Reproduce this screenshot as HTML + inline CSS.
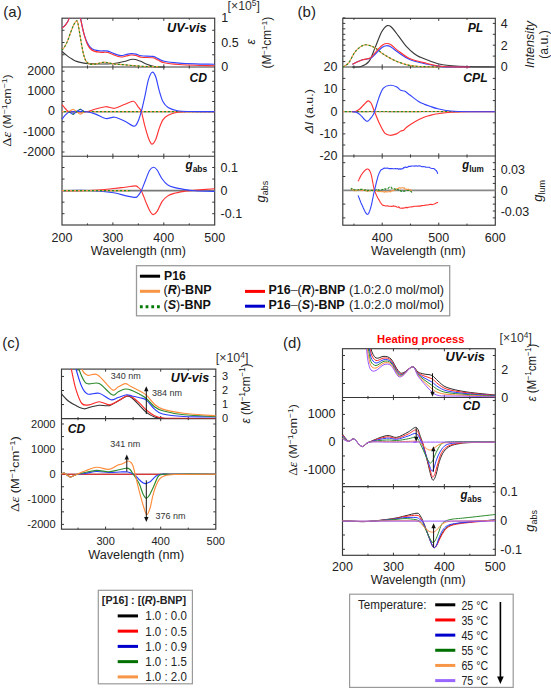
<!DOCTYPE html><html><head><meta charset="utf-8"><style>html,body{margin:0;padding:0;background:#fff;}svg{display:block;}</style></head><body>
<svg width="551" height="688" viewBox="0 0 551 688">
<rect width="551" height="688" fill="#fff"/>
<text x="3.30" y="16.80" font-family="'Liberation Sans', sans-serif" font-size="15" text-anchor="start" font-weight="normal" font-style="normal" fill="#222" >(a)</text>
<rect x="62.00" y="18.20" width="152.70" height="206.80" fill="none" stroke="#383838" stroke-width="1.15"/>
<line x1="62.00" y1="67.00" x2="214.70" y2="67.00" stroke="#383838" stroke-width="1.15" />
<line x1="62.00" y1="156.20" x2="214.70" y2="156.20" stroke="#383838" stroke-width="1.15" />
<line x1="112.90" y1="18.20" x2="112.90" y2="20.80" stroke="#383838" stroke-width="1" />
<line x1="163.80" y1="18.20" x2="163.80" y2="20.80" stroke="#383838" stroke-width="1" />
<line x1="87.45" y1="18.20" x2="87.45" y2="19.80" stroke="#383838" stroke-width="1" />
<line x1="138.35" y1="18.20" x2="138.35" y2="19.80" stroke="#383838" stroke-width="1" />
<line x1="189.25" y1="18.20" x2="189.25" y2="19.80" stroke="#383838" stroke-width="1" />
<line x1="112.90" y1="64.40" x2="112.90" y2="67.00" stroke="#383838" stroke-width="1" />
<line x1="112.90" y1="67.00" x2="112.90" y2="69.60" stroke="#383838" stroke-width="1" />
<line x1="163.80" y1="64.40" x2="163.80" y2="67.00" stroke="#383838" stroke-width="1" />
<line x1="163.80" y1="67.00" x2="163.80" y2="69.60" stroke="#383838" stroke-width="1" />
<line x1="87.45" y1="65.40" x2="87.45" y2="67.00" stroke="#383838" stroke-width="1" />
<line x1="87.45" y1="67.00" x2="87.45" y2="68.60" stroke="#383838" stroke-width="1" />
<line x1="138.35" y1="65.40" x2="138.35" y2="67.00" stroke="#383838" stroke-width="1" />
<line x1="138.35" y1="67.00" x2="138.35" y2="68.60" stroke="#383838" stroke-width="1" />
<line x1="189.25" y1="65.40" x2="189.25" y2="67.00" stroke="#383838" stroke-width="1" />
<line x1="189.25" y1="67.00" x2="189.25" y2="68.60" stroke="#383838" stroke-width="1" />
<line x1="112.90" y1="153.60" x2="112.90" y2="156.20" stroke="#383838" stroke-width="1" />
<line x1="112.90" y1="156.20" x2="112.90" y2="158.80" stroke="#383838" stroke-width="1" />
<line x1="163.80" y1="153.60" x2="163.80" y2="156.20" stroke="#383838" stroke-width="1" />
<line x1="163.80" y1="156.20" x2="163.80" y2="158.80" stroke="#383838" stroke-width="1" />
<line x1="87.45" y1="154.60" x2="87.45" y2="156.20" stroke="#383838" stroke-width="1" />
<line x1="87.45" y1="156.20" x2="87.45" y2="157.80" stroke="#383838" stroke-width="1" />
<line x1="138.35" y1="154.60" x2="138.35" y2="156.20" stroke="#383838" stroke-width="1" />
<line x1="138.35" y1="156.20" x2="138.35" y2="157.80" stroke="#383838" stroke-width="1" />
<line x1="189.25" y1="154.60" x2="189.25" y2="156.20" stroke="#383838" stroke-width="1" />
<line x1="189.25" y1="156.20" x2="189.25" y2="157.80" stroke="#383838" stroke-width="1" />
<line x1="112.90" y1="222.40" x2="112.90" y2="225.00" stroke="#383838" stroke-width="1" />
<line x1="163.80" y1="222.40" x2="163.80" y2="225.00" stroke="#383838" stroke-width="1" />
<line x1="87.45" y1="223.40" x2="87.45" y2="225.00" stroke="#383838" stroke-width="1" />
<line x1="138.35" y1="223.40" x2="138.35" y2="225.00" stroke="#383838" stroke-width="1" />
<line x1="189.25" y1="223.40" x2="189.25" y2="225.00" stroke="#383838" stroke-width="1" />
<line x1="62.00" y1="30.25" x2="64.50" y2="30.25" stroke="#383838" stroke-width="1" />
<line x1="212.20" y1="30.25" x2="214.70" y2="30.25" stroke="#383838" stroke-width="1" />
<line x1="62.00" y1="42.50" x2="64.50" y2="42.50" stroke="#383838" stroke-width="1" />
<line x1="212.20" y1="42.50" x2="214.70" y2="42.50" stroke="#383838" stroke-width="1" />
<line x1="62.00" y1="54.75" x2="64.50" y2="54.75" stroke="#383838" stroke-width="1" />
<line x1="212.20" y1="54.75" x2="214.70" y2="54.75" stroke="#383838" stroke-width="1" />
<line x1="62.00" y1="152.00" x2="64.50" y2="152.00" stroke="#383838" stroke-width="1" />
<line x1="212.20" y1="152.00" x2="214.70" y2="152.00" stroke="#383838" stroke-width="1" />
<line x1="62.00" y1="141.90" x2="64.50" y2="141.90" stroke="#383838" stroke-width="1" />
<line x1="212.20" y1="141.90" x2="214.70" y2="141.90" stroke="#383838" stroke-width="1" />
<line x1="62.00" y1="131.80" x2="64.50" y2="131.80" stroke="#383838" stroke-width="1" />
<line x1="212.20" y1="131.80" x2="214.70" y2="131.80" stroke="#383838" stroke-width="1" />
<line x1="62.00" y1="121.70" x2="64.50" y2="121.70" stroke="#383838" stroke-width="1" />
<line x1="212.20" y1="121.70" x2="214.70" y2="121.70" stroke="#383838" stroke-width="1" />
<line x1="62.00" y1="111.60" x2="64.50" y2="111.60" stroke="#383838" stroke-width="1" />
<line x1="212.20" y1="111.60" x2="214.70" y2="111.60" stroke="#383838" stroke-width="1" />
<line x1="62.00" y1="101.50" x2="64.50" y2="101.50" stroke="#383838" stroke-width="1" />
<line x1="212.20" y1="101.50" x2="214.70" y2="101.50" stroke="#383838" stroke-width="1" />
<line x1="62.00" y1="91.40" x2="64.50" y2="91.40" stroke="#383838" stroke-width="1" />
<line x1="212.20" y1="91.40" x2="214.70" y2="91.40" stroke="#383838" stroke-width="1" />
<line x1="62.00" y1="81.30" x2="64.50" y2="81.30" stroke="#383838" stroke-width="1" />
<line x1="212.20" y1="81.30" x2="214.70" y2="81.30" stroke="#383838" stroke-width="1" />
<line x1="62.00" y1="71.20" x2="64.50" y2="71.20" stroke="#383838" stroke-width="1" />
<line x1="212.20" y1="71.20" x2="214.70" y2="71.20" stroke="#383838" stroke-width="1" />
<line x1="62.00" y1="213.70" x2="64.50" y2="213.70" stroke="#383838" stroke-width="1" />
<line x1="212.20" y1="213.70" x2="214.70" y2="213.70" stroke="#383838" stroke-width="1" />
<line x1="62.00" y1="202.15" x2="64.50" y2="202.15" stroke="#383838" stroke-width="1" />
<line x1="212.20" y1="202.15" x2="214.70" y2="202.15" stroke="#383838" stroke-width="1" />
<line x1="62.00" y1="179.05" x2="64.50" y2="179.05" stroke="#383838" stroke-width="1" />
<line x1="212.20" y1="179.05" x2="214.70" y2="179.05" stroke="#383838" stroke-width="1" />
<line x1="62.00" y1="167.50" x2="64.50" y2="167.50" stroke="#383838" stroke-width="1" />
<line x1="212.20" y1="167.50" x2="214.70" y2="167.50" stroke="#383838" stroke-width="1" />
<text x="55.00" y="75.00" font-family="'Liberation Sans', sans-serif" font-size="12.5" text-anchor="end" font-weight="normal" font-style="normal" fill="#222" >2000</text>
<text x="55.00" y="95.20" font-family="'Liberation Sans', sans-serif" font-size="12.5" text-anchor="end" font-weight="normal" font-style="normal" fill="#222" >1000</text>
<text x="55.00" y="115.40" font-family="'Liberation Sans', sans-serif" font-size="12.5" text-anchor="end" font-weight="normal" font-style="normal" fill="#222" >0</text>
<text x="55.00" y="135.60" font-family="'Liberation Sans', sans-serif" font-size="12.5" text-anchor="end" font-weight="normal" font-style="normal" fill="#222" >-1000</text>
<text x="55.00" y="155.80" font-family="'Liberation Sans', sans-serif" font-size="12.5" text-anchor="end" font-weight="normal" font-style="normal" fill="#222" >-2000</text>
<text x="62.00" y="241.80" font-family="'Liberation Sans', sans-serif" font-size="12.5" text-anchor="middle" font-weight="normal" font-style="normal" fill="#222" >200</text>
<text x="112.90" y="241.80" font-family="'Liberation Sans', sans-serif" font-size="12.5" text-anchor="middle" font-weight="normal" font-style="normal" fill="#222" >300</text>
<text x="163.80" y="241.80" font-family="'Liberation Sans', sans-serif" font-size="12.5" text-anchor="middle" font-weight="normal" font-style="normal" fill="#222" >400</text>
<text x="214.70" y="241.80" font-family="'Liberation Sans', sans-serif" font-size="12.5" text-anchor="middle" font-weight="normal" font-style="normal" fill="#222" >500</text>
<text x="138.40" y="255.00" font-family="'Liberation Sans', sans-serif" font-size="12" text-anchor="middle" font-weight="normal" font-style="normal" fill="#222" textLength="95.2" lengthAdjust="spacingAndGlyphs" >Wavelength (nm)</text>
<text x="221.30" y="21.80" font-family="'Liberation Sans', sans-serif" font-size="12.5" text-anchor="start" font-weight="normal" font-style="normal" fill="#222" >1</text>
<text x="221.30" y="46.80" font-family="'Liberation Sans', sans-serif" font-size="12.5" text-anchor="start" font-weight="normal" font-style="normal" fill="#222" >0.5</text>
<text x="221.30" y="71.20" font-family="'Liberation Sans', sans-serif" font-size="12.5" text-anchor="start" font-weight="normal" font-style="normal" fill="#222" >0</text>
<text x="227.60" y="10.40" font-family="'Liberation Sans', sans-serif" font-size="12.5" text-anchor="start" font-weight="normal" font-style="normal" fill="#333" textLength="32.2" lengthAdjust="spacingAndGlyphs" >[×10<tspan dy='-4.5' font-size='8.5'>5</tspan><tspan dy='4.5'>]</tspan></text>
<text x="220.60" y="171.70" font-family="'Liberation Sans', sans-serif" font-size="12.5" text-anchor="start" font-weight="normal" font-style="normal" fill="#222" >0.1</text>
<text x="220.60" y="194.60" font-family="'Liberation Sans', sans-serif" font-size="12.5" text-anchor="start" font-weight="normal" font-style="normal" fill="#222" >0</text>
<text x="220.60" y="217.80" font-family="'Liberation Sans', sans-serif" font-size="12.5" text-anchor="start" font-weight="normal" font-style="normal" fill="#222" >-0.1</text>
<text x="255.30" y="41.80" font-family="'Liberation Sans', sans-serif" font-size="12" text-anchor="middle" font-weight="normal" font-style="italic" fill="#222" transform="rotate(-90 255.30 41.80)" >ε</text>
<text x="271.40" y="42.70" font-family="'Liberation Sans', sans-serif" font-size="12" text-anchor="middle" font-weight="normal" font-style="normal" fill="#222" textLength="51.7" lengthAdjust="spacingAndGlyphs" transform="rotate(-90 271.40 42.70)" >(M<tspan dy='-4' font-size='8'>−1</tspan><tspan dy='4'>cm</tspan><tspan dy='-4' font-size='8'>−1</tspan><tspan dy='4'>)</tspan></text>
<text x="264.60" y="191.60" font-family="'Liberation Sans', sans-serif" font-size="12" text-anchor="middle" font-weight="normal" font-style="normal" fill="#222" transform="rotate(-90 264.60 191.60)" ><tspan font-style='italic' font-size='13'>g</tspan><tspan dy='3' font-size='9'>abs</tspan></text>
<text x="10.90" y="110.60" font-family="'Liberation Sans', sans-serif" font-size="10.5" text-anchor="middle" font-weight="normal" font-style="normal" fill="#222" textLength="72.4" lengthAdjust="spacingAndGlyphs" transform="rotate(-90 10.90 110.60)" ><tspan font-family="'Liberation Serif', serif" font-size='12.5'>Δ<tspan font-style='italic'>ε</tspan></tspan><tspan>  (M</tspan><tspan dy='-4' font-size='7.5'>−1</tspan><tspan dy='4'>cm</tspan><tspan dy='-4' font-size='7.5'>−1</tspan><tspan dy='4'>)</tspan></text>
<text x="206.60" y="31.80" font-family="'Liberation Sans', sans-serif" font-size="12.2" text-anchor="end" font-weight="bold" font-style="italic" fill="#111" textLength="39.5" lengthAdjust="spacingAndGlyphs" >UV-vis</text>
<text x="207.10" y="81.80" font-family="'Liberation Sans', sans-serif" font-size="12.2" text-anchor="end" font-weight="bold" font-style="italic" fill="#111" >CD</text>
<text x="185.50" y="168.80" font-family="'Liberation Sans', sans-serif" font-size="12" text-anchor="start" font-weight="bold" font-style="normal" fill="#111" textLength="21.8" lengthAdjust="spacingAndGlyphs" ><tspan font-style='italic' font-size='13'>g</tspan><tspan font-size='9.5' dy='3'>abs</tspan></text>
<path d="M62.0 51.5 C62.9 52.3 65.9 54.8 67.6 56.1 C69.3 57.4 70.6 58.2 72.1 59.1 C73.6 60.0 74.8 60.8 76.6 61.4 C78.4 62.0 80.7 62.5 82.7 62.9 C84.7 63.3 85.8 63.4 88.7 63.6 C91.6 63.8 95.8 64.0 100.0 64.0 C104.2 64.0 109.7 63.9 113.7 63.5 C117.7 63.1 120.8 62.2 124.0 61.5 C127.2 60.8 129.9 59.4 132.6 59.3 C135.3 59.2 137.7 60.2 140.0 61.0 C142.3 61.8 143.9 63.1 146.3 64.0 C148.7 64.9 151.4 66.1 154.5 66.6 C157.6 67.1 163.2 66.9 165.0 67.0" fill="none" stroke="#3a3a3a" stroke-width="1.15" stroke-linejoin="round" />
<path d="M62.0 50.0 C62.4 49.5 63.6 48.5 64.5 47.0 C65.4 45.5 66.6 43.3 67.6 40.9 C68.6 38.5 69.6 35.2 70.6 32.6 C71.6 30.0 72.6 27.1 73.6 25.1 C74.5 23.2 75.6 21.3 76.3 20.9 C77.0 20.5 77.3 21.1 77.8 22.8 C78.3 24.5 78.7 27.8 79.3 31.1 C79.9 34.4 80.5 38.7 81.2 42.5 C81.9 46.3 82.7 50.8 83.4 53.8 C84.2 56.8 84.8 59.0 85.7 60.6 C86.6 62.2 87.7 63.0 88.7 63.6 C89.7 64.2 90.2 64.4 91.7 64.4 C93.2 64.4 95.8 63.9 98.0 63.5 C100.2 63.1 102.4 62.1 105.0 62.2 C107.6 62.3 110.4 63.6 113.7 64.0 C117.0 64.4 120.6 64.4 125.0 64.8 C129.4 65.2 134.2 65.9 140.0 66.2 C145.8 66.5 156.7 66.7 160.0 66.8" fill="none" stroke="#f79646" stroke-width="1.15" stroke-linejoin="round" />
<path d="M62.0 50.0 C62.4 49.5 63.6 48.5 64.5 47.0 C65.4 45.5 66.6 43.3 67.6 40.9 C68.6 38.5 69.6 35.2 70.6 32.6 C71.6 30.0 72.6 27.1 73.6 25.1 C74.5 23.2 75.6 21.3 76.3 20.9 C77.0 20.5 77.3 21.1 77.8 22.8 C78.3 24.5 78.7 27.8 79.3 31.1 C79.9 34.4 80.5 38.7 81.2 42.5 C81.9 46.3 82.7 50.8 83.4 53.8 C84.2 56.8 84.8 59.0 85.7 60.6 C86.6 62.2 87.7 63.0 88.7 63.6 C89.7 64.2 90.2 64.4 91.7 64.4 C93.2 64.4 95.8 63.9 98.0 63.5 C100.2 63.1 102.4 62.1 105.0 62.2 C107.6 62.3 110.4 63.6 113.7 64.0 C117.0 64.4 120.6 64.4 125.0 64.8 C129.4 65.2 134.2 65.9 140.0 66.2 C145.8 66.5 156.7 66.7 160.0 66.8" fill="none" stroke="#228b22" stroke-width="1.15" stroke-dasharray="2,2" stroke-linejoin="round" />
<clipPath id="ca"><rect x="62" y="18.2" width="152.7" height="48.8"/></clipPath>
<g clip-path="url(#ca)">
<path d="M62.0 27.8 C62.4 27.5 63.6 26.9 64.5 25.9 C65.4 24.9 66.8 23.0 67.6 21.7 C68.4 20.4 68.5 19.7 69.1 18.0 C69.7 16.3 69.5 12.8 71.0 11.7 C72.5 10.6 76.4 10.6 78.0 11.7 C79.6 12.8 79.8 15.8 80.4 18.0 C81.1 20.2 81.3 22.0 81.9 24.8 C82.5 27.6 83.3 31.6 84.2 34.6 C85.1 37.6 86.2 40.5 87.2 42.6 C88.2 44.7 89.1 45.9 90.2 47.1 C91.3 48.3 92.4 49.1 94.0 49.7 C95.6 50.3 98.4 50.7 100.0 50.9 C101.6 51.1 102.2 50.9 103.5 50.9 C104.8 50.9 106.2 50.6 108.0 51.1 C109.8 51.6 111.8 52.9 114.0 53.6 C116.2 54.4 119.0 55.4 121.0 55.6 C123.0 55.8 124.3 54.9 126.0 54.6 C127.7 54.3 129.3 53.7 131.0 53.6 C132.7 53.5 134.3 53.7 136.0 54.1 C137.7 54.5 138.6 55.4 141.4 55.8 C144.2 56.2 150.1 55.9 152.9 56.4 C155.7 56.9 156.1 57.8 158.0 58.6 C159.9 59.4 160.8 60.6 164.3 61.3 C167.8 62.1 173.9 62.7 179.0 63.1 C184.1 63.5 189.1 63.7 195.0 63.9 C200.9 64.1 211.4 64.2 214.7 64.3" fill="none" stroke="#3344ff" stroke-width="1.15" stroke-linejoin="round" />
<path d="M62.0 28.1 C62.4 27.8 63.6 27.2 64.5 26.2 C65.4 25.2 66.8 23.3 67.6 22.0 C68.4 20.7 68.5 20.0 69.1 18.3 C69.7 16.6 69.5 13.1 71.0 12.0 C72.5 10.9 76.4 10.9 78.0 12.0 C79.6 13.1 79.8 16.1 80.4 18.3 C81.1 20.5 81.3 22.3 81.9 25.1 C82.5 27.9 83.3 31.8 84.2 34.9 C85.1 38.0 86.2 41.7 87.2 44.0 C88.2 46.3 89.1 47.3 90.2 48.5 C91.3 49.7 92.4 50.5 94.0 51.1 C95.6 51.7 98.4 52.1 100.0 52.3 C101.6 52.5 102.2 52.3 103.5 52.3 C104.8 52.3 106.2 52.0 108.0 52.5 C109.8 53.0 111.8 54.2 114.0 55.0 C116.2 55.8 119.0 56.8 121.0 57.0 C123.0 57.2 124.3 56.3 126.0 56.0 C127.7 55.7 129.3 55.1 131.0 55.0 C132.7 54.9 134.3 55.1 136.0 55.5 C137.7 55.9 138.6 56.8 141.4 57.2 C144.2 57.6 150.1 57.3 152.9 57.8 C155.7 58.3 156.1 59.2 158.0 60.0 C159.9 60.8 160.8 62.0 164.3 62.7 C167.8 63.5 173.9 64.1 179.0 64.5 C184.1 64.9 189.1 65.1 195.0 65.3 C200.9 65.5 211.4 65.6 214.7 65.7" fill="none" stroke="#ff3333" stroke-width="1.15" stroke-linejoin="round" />
</g>
<path d="M62.0 111.6 L214.7 111.6" fill="none" stroke="#3a3a3a" stroke-width="1.15" stroke-linejoin="round" />
<path d="M62.0 111.6 L214.7 111.6" fill="none" stroke="#f79646" stroke-width="1.15" stroke-dasharray="2,2" stroke-linejoin="round" />
<path d="M62.0 111.6 L214.7 111.6" fill="none" stroke="#228b22" stroke-width="1.15" stroke-dasharray="2,2" stroke-linejoin="round" stroke-dashoffset="2"/>
<path d="M62.0 104.5 C62.6 105.2 64.5 107.8 65.7 109.0 C66.9 110.2 67.2 111.0 68.9 111.5 C70.6 112.0 73.0 111.7 76.0 111.7 C79.0 111.8 83.4 112.2 86.7 111.8 C90.0 111.3 92.4 109.8 95.6 109.0 C98.8 108.2 102.5 106.8 105.7 106.7 C108.9 106.6 111.4 108.7 114.6 108.3 C117.8 107.9 121.8 105.4 125.0 104.2 C128.2 103.0 131.3 100.9 133.5 101.3 C135.7 101.7 136.8 105.1 138.1 106.8 C139.4 108.5 140.2 108.5 141.3 111.6 C142.4 114.6 143.4 120.7 144.6 125.1 C145.8 129.5 147.3 135.0 148.5 138.2 C149.7 141.4 150.6 143.9 151.8 144.1 C153.0 144.3 154.5 142.0 155.7 139.5 C156.9 137.0 157.8 132.3 159.0 129.0 C160.2 125.7 161.4 122.2 162.9 119.9 C164.4 117.6 165.7 116.6 168.1 115.3 C170.5 114.0 173.7 112.9 177.3 112.3 C181.0 111.7 183.8 111.8 190.0 111.7 C196.2 111.6 210.6 111.6 214.7 111.6" fill="none" stroke="#ff3333" stroke-width="1.15" stroke-linejoin="round" />
<path d="M62.0 119.1 C62.6 118.4 64.5 115.8 65.7 114.7 C66.9 113.6 67.2 112.7 68.9 112.2 C70.6 111.7 73.0 111.7 76.0 111.6 C79.0 111.5 83.4 111.4 86.7 111.8 C90.0 112.2 92.4 113.0 95.6 114.1 C98.8 115.2 102.5 118.0 105.7 118.5 C108.9 119.0 111.4 116.8 114.6 117.2 C117.8 117.7 121.7 119.7 125.0 121.2 C128.3 122.7 132.0 126.2 134.2 126.2 C136.4 126.2 136.9 123.6 138.1 121.2 C139.3 118.8 140.2 115.5 141.3 111.6 C142.4 107.7 143.4 103.1 144.6 97.7 C145.8 92.3 147.2 83.7 148.5 79.4 C149.8 75.2 151.0 72.6 152.2 72.2 C153.4 71.8 154.6 73.9 155.7 76.8 C156.8 79.7 157.8 85.7 159.0 89.8 C160.2 93.9 161.4 98.6 162.9 101.6 C164.4 104.5 165.7 106.0 168.1 107.5 C170.5 109.0 173.7 110.1 177.3 110.8 C181.0 111.5 183.8 111.4 190.0 111.5 C196.2 111.6 210.6 111.6 214.7 111.6" fill="none" stroke="#3344ff" stroke-width="1.15" stroke-linejoin="round" />
<path d="M69.0 111.7 C69.7 111.3 71.7 109.3 73.0 109.3 C74.3 109.3 75.4 110.9 76.6 111.7 C77.8 112.5 79.1 114.1 80.3 114.1 C81.5 114.1 83.4 112.1 84.0 111.7" fill="none" stroke="#f79646" stroke-width="1.15" stroke-linejoin="round" />
<path d="M69.0 111.7 C69.7 112.1 71.7 114.1 73.0 114.1 C74.3 114.1 75.4 112.5 76.6 111.7 C77.8 110.9 79.1 109.3 80.3 109.3 C81.5 109.3 83.4 111.3 84.0 111.7" fill="none" stroke="#3344ff" stroke-width="1.15" stroke-linejoin="round" />
<path d="M69.0 111.7 C69.7 112.1 71.7 114.1 73.0 114.1 C74.3 114.1 75.4 112.5 76.6 111.7 C77.8 110.9 79.1 109.3 80.3 109.3 C81.5 109.3 83.4 111.3 84.0 111.7" fill="none" stroke="#228b22" stroke-width="1.15" stroke-dasharray="2,2" stroke-linejoin="round" />
<line x1="62.00" y1="190.60" x2="214.70" y2="190.60" stroke="#777" stroke-width="1.8" />
<path d="M62.0 190.6 C66.5 190.6 80.4 190.8 89.0 190.5 C97.6 190.2 107.7 189.1 113.7 188.5 C119.7 187.9 121.4 187.6 125.0 187.2 C128.6 186.8 133.1 185.8 135.3 185.8 C137.5 185.8 137.1 186.6 138.1 187.4 C139.1 188.2 140.0 188.3 141.3 190.7 C142.6 193.1 144.3 198.3 145.7 201.6 C147.1 204.9 148.3 208.1 149.5 210.3 C150.7 212.5 151.8 214.4 153.1 214.6 C154.4 214.8 155.6 213.6 157.1 211.4 C158.6 209.2 160.3 204.2 162.0 201.6 C163.7 199.0 165.5 197.5 167.5 196.1 C169.5 194.7 171.1 194.2 174.0 193.4 C176.9 192.6 182.2 191.7 185.0 191.2 C187.8 190.7 185.6 191.0 190.5 190.6 C195.4 190.2 210.7 189.0 214.7 188.7" fill="none" stroke="#ff3333" stroke-width="1.15" stroke-linejoin="round" />
<path d="M62.0 190.6 C66.5 190.6 80.4 190.1 89.0 190.5 C97.6 190.9 107.7 192.0 113.7 192.8 C119.7 193.7 121.4 194.8 125.0 195.6 C128.6 196.4 133.1 197.4 135.3 197.4 C137.5 197.4 137.1 196.7 138.1 195.6 C139.1 194.5 140.0 193.3 141.3 190.7 C142.6 188.1 144.3 183.2 145.7 179.8 C147.1 176.4 148.2 172.6 149.5 170.5 C150.8 168.4 152.2 167.4 153.5 167.3 C154.8 167.2 155.7 168.1 157.1 170.0 C158.5 171.9 160.3 176.2 162.0 178.7 C163.7 181.1 165.5 183.2 167.5 184.7 C169.5 186.1 171.1 186.6 174.0 187.4 C176.9 188.2 181.5 189.0 185.0 189.6 C188.5 190.2 190.1 190.5 195.0 190.8 C199.9 191.1 211.4 191.4 214.7 191.5" fill="none" stroke="#3344ff" stroke-width="1.15" stroke-linejoin="round" />
<path d="M62.0 190.6 L130.0 190.6" fill="none" stroke="#f79646" stroke-width="1.15" stroke-dasharray="2,2" stroke-linejoin="round" />
<path d="M62.0 190.6 L130.0 190.6" fill="none" stroke="#228b22" stroke-width="1.15" stroke-dasharray="2,2" stroke-linejoin="round" stroke-dashoffset="2"/>
<text x="297.60" y="16.80" font-family="'Liberation Sans', sans-serif" font-size="15" text-anchor="start" font-weight="normal" font-style="normal" fill="#222" >(b)</text>
<rect x="342.80" y="18.30" width="152.50" height="206.90" fill="none" stroke="#383838" stroke-width="1.15"/>
<line x1="342.80" y1="67.00" x2="495.30" y2="67.00" stroke="#383838" stroke-width="1.15" />
<line x1="342.80" y1="156.00" x2="495.30" y2="156.00" stroke="#383838" stroke-width="1.15" />
<line x1="382.20" y1="18.30" x2="382.20" y2="20.90" stroke="#383838" stroke-width="1" />
<line x1="438.75" y1="18.30" x2="438.75" y2="20.90" stroke="#383838" stroke-width="1" />
<line x1="353.93" y1="18.30" x2="353.93" y2="19.90" stroke="#383838" stroke-width="1" />
<line x1="410.48" y1="18.30" x2="410.48" y2="19.90" stroke="#383838" stroke-width="1" />
<line x1="467.03" y1="18.30" x2="467.03" y2="19.90" stroke="#383838" stroke-width="1" />
<line x1="382.20" y1="64.40" x2="382.20" y2="67.00" stroke="#383838" stroke-width="1" />
<line x1="382.20" y1="67.00" x2="382.20" y2="69.60" stroke="#383838" stroke-width="1" />
<line x1="438.75" y1="64.40" x2="438.75" y2="67.00" stroke="#383838" stroke-width="1" />
<line x1="438.75" y1="67.00" x2="438.75" y2="69.60" stroke="#383838" stroke-width="1" />
<line x1="353.93" y1="65.40" x2="353.93" y2="67.00" stroke="#383838" stroke-width="1" />
<line x1="353.93" y1="67.00" x2="353.93" y2="68.60" stroke="#383838" stroke-width="1" />
<line x1="410.48" y1="65.40" x2="410.48" y2="67.00" stroke="#383838" stroke-width="1" />
<line x1="410.48" y1="67.00" x2="410.48" y2="68.60" stroke="#383838" stroke-width="1" />
<line x1="467.03" y1="65.40" x2="467.03" y2="67.00" stroke="#383838" stroke-width="1" />
<line x1="467.03" y1="67.00" x2="467.03" y2="68.60" stroke="#383838" stroke-width="1" />
<line x1="382.20" y1="153.40" x2="382.20" y2="156.00" stroke="#383838" stroke-width="1" />
<line x1="382.20" y1="156.00" x2="382.20" y2="158.60" stroke="#383838" stroke-width="1" />
<line x1="438.75" y1="153.40" x2="438.75" y2="156.00" stroke="#383838" stroke-width="1" />
<line x1="438.75" y1="156.00" x2="438.75" y2="158.60" stroke="#383838" stroke-width="1" />
<line x1="353.93" y1="154.40" x2="353.93" y2="156.00" stroke="#383838" stroke-width="1" />
<line x1="353.93" y1="156.00" x2="353.93" y2="157.60" stroke="#383838" stroke-width="1" />
<line x1="410.48" y1="154.40" x2="410.48" y2="156.00" stroke="#383838" stroke-width="1" />
<line x1="410.48" y1="156.00" x2="410.48" y2="157.60" stroke="#383838" stroke-width="1" />
<line x1="467.03" y1="154.40" x2="467.03" y2="156.00" stroke="#383838" stroke-width="1" />
<line x1="467.03" y1="156.00" x2="467.03" y2="157.60" stroke="#383838" stroke-width="1" />
<line x1="382.20" y1="222.60" x2="382.20" y2="225.20" stroke="#383838" stroke-width="1" />
<line x1="438.75" y1="222.60" x2="438.75" y2="225.20" stroke="#383838" stroke-width="1" />
<line x1="353.93" y1="223.60" x2="353.93" y2="225.20" stroke="#383838" stroke-width="1" />
<line x1="410.48" y1="223.60" x2="410.48" y2="225.20" stroke="#383838" stroke-width="1" />
<line x1="467.03" y1="223.60" x2="467.03" y2="225.20" stroke="#383838" stroke-width="1" />
<line x1="342.80" y1="61.55" x2="345.30" y2="61.55" stroke="#383838" stroke-width="1" />
<line x1="342.80" y1="56.10" x2="345.30" y2="56.10" stroke="#383838" stroke-width="1" />
<line x1="342.80" y1="50.65" x2="345.30" y2="50.65" stroke="#383838" stroke-width="1" />
<line x1="342.80" y1="45.20" x2="345.30" y2="45.20" stroke="#383838" stroke-width="1" />
<line x1="342.80" y1="39.75" x2="345.30" y2="39.75" stroke="#383838" stroke-width="1" />
<line x1="342.80" y1="34.30" x2="345.30" y2="34.30" stroke="#383838" stroke-width="1" />
<line x1="342.80" y1="28.85" x2="345.30" y2="28.85" stroke="#383838" stroke-width="1" />
<line x1="342.80" y1="23.40" x2="345.30" y2="23.40" stroke="#383838" stroke-width="1" />
<line x1="342.80" y1="17.95" x2="345.30" y2="17.95" stroke="#383838" stroke-width="1" />
<line x1="492.80" y1="56.10" x2="495.30" y2="56.10" stroke="#383838" stroke-width="1" />
<line x1="492.80" y1="45.20" x2="495.30" y2="45.20" stroke="#383838" stroke-width="1" />
<line x1="492.80" y1="34.30" x2="495.30" y2="34.30" stroke="#383838" stroke-width="1" />
<line x1="492.80" y1="23.40" x2="495.30" y2="23.40" stroke="#383838" stroke-width="1" />
<line x1="342.80" y1="145.00" x2="345.30" y2="145.00" stroke="#383838" stroke-width="1" />
<line x1="492.80" y1="145.00" x2="495.30" y2="145.00" stroke="#383838" stroke-width="1" />
<line x1="342.80" y1="133.90" x2="345.30" y2="133.90" stroke="#383838" stroke-width="1" />
<line x1="492.80" y1="133.90" x2="495.30" y2="133.90" stroke="#383838" stroke-width="1" />
<line x1="342.80" y1="122.80" x2="345.30" y2="122.80" stroke="#383838" stroke-width="1" />
<line x1="492.80" y1="122.80" x2="495.30" y2="122.80" stroke="#383838" stroke-width="1" />
<line x1="342.80" y1="100.60" x2="345.30" y2="100.60" stroke="#383838" stroke-width="1" />
<line x1="492.80" y1="100.60" x2="495.30" y2="100.60" stroke="#383838" stroke-width="1" />
<line x1="342.80" y1="89.50" x2="345.30" y2="89.50" stroke="#383838" stroke-width="1" />
<line x1="492.80" y1="89.50" x2="495.30" y2="89.50" stroke="#383838" stroke-width="1" />
<line x1="342.80" y1="78.40" x2="345.30" y2="78.40" stroke="#383838" stroke-width="1" />
<line x1="492.80" y1="78.40" x2="495.30" y2="78.40" stroke="#383838" stroke-width="1" />
<line x1="342.80" y1="217.90" x2="345.30" y2="217.90" stroke="#383838" stroke-width="1" />
<line x1="342.80" y1="204.10" x2="345.30" y2="204.10" stroke="#383838" stroke-width="1" />
<line x1="342.80" y1="176.50" x2="345.30" y2="176.50" stroke="#383838" stroke-width="1" />
<line x1="342.80" y1="162.70" x2="345.30" y2="162.70" stroke="#383838" stroke-width="1" />
<line x1="492.80" y1="217.90" x2="495.30" y2="217.90" stroke="#383838" stroke-width="1" />
<line x1="492.80" y1="211.00" x2="495.30" y2="211.00" stroke="#383838" stroke-width="1" />
<line x1="492.80" y1="204.10" x2="495.30" y2="204.10" stroke="#383838" stroke-width="1" />
<line x1="492.80" y1="197.20" x2="495.30" y2="197.20" stroke="#383838" stroke-width="1" />
<line x1="492.80" y1="183.40" x2="495.30" y2="183.40" stroke="#383838" stroke-width="1" />
<line x1="492.80" y1="176.50" x2="495.30" y2="176.50" stroke="#383838" stroke-width="1" />
<line x1="492.80" y1="169.60" x2="495.30" y2="169.60" stroke="#383838" stroke-width="1" />
<line x1="492.80" y1="162.70" x2="495.30" y2="162.70" stroke="#383838" stroke-width="1" />
<text x="337.50" y="71.20" font-family="'Liberation Sans', sans-serif" font-size="12.5" text-anchor="end" font-weight="normal" font-style="normal" fill="#222" >20</text>
<text x="337.50" y="93.40" font-family="'Liberation Sans', sans-serif" font-size="12.5" text-anchor="end" font-weight="normal" font-style="normal" fill="#222" >10</text>
<text x="337.50" y="115.60" font-family="'Liberation Sans', sans-serif" font-size="12.5" text-anchor="end" font-weight="normal" font-style="normal" fill="#222" >0</text>
<text x="337.50" y="137.80" font-family="'Liberation Sans', sans-serif" font-size="12.5" text-anchor="end" font-weight="normal" font-style="normal" fill="#222" >-10</text>
<text x="337.50" y="160.00" font-family="'Liberation Sans', sans-serif" font-size="12.5" text-anchor="end" font-weight="normal" font-style="normal" fill="#222" >-20</text>
<text x="382.20" y="242.00" font-family="'Liberation Sans', sans-serif" font-size="12.5" text-anchor="middle" font-weight="normal" font-style="normal" fill="#222" >400</text>
<text x="438.75" y="242.00" font-family="'Liberation Sans', sans-serif" font-size="12.5" text-anchor="middle" font-weight="normal" font-style="normal" fill="#222" >500</text>
<text x="495.30" y="242.00" font-family="'Liberation Sans', sans-serif" font-size="12.5" text-anchor="middle" font-weight="normal" font-style="normal" fill="#222" >600</text>
<text x="418.25" y="255.40" font-family="'Liberation Sans', sans-serif" font-size="12" text-anchor="middle" font-weight="normal" font-style="normal" fill="#222" textLength="94.7" lengthAdjust="spacingAndGlyphs" >Wavelength (nm)</text>
<text x="500.70" y="28.00" font-family="'Liberation Sans', sans-serif" font-size="12.5" text-anchor="start" font-weight="normal" font-style="normal" fill="#222" >4</text>
<text x="500.70" y="49.80" font-family="'Liberation Sans', sans-serif" font-size="12.5" text-anchor="start" font-weight="normal" font-style="normal" fill="#222" >2</text>
<text x="500.70" y="71.40" font-family="'Liberation Sans', sans-serif" font-size="12.5" text-anchor="start" font-weight="normal" font-style="normal" fill="#222" >0</text>
<text x="500.70" y="174.00" font-family="'Liberation Sans', sans-serif" font-size="12.5" text-anchor="start" font-weight="normal" font-style="normal" fill="#222" >0.03</text>
<text x="500.70" y="194.70" font-family="'Liberation Sans', sans-serif" font-size="12.5" text-anchor="start" font-weight="normal" font-style="normal" fill="#222" >0</text>
<text x="500.70" y="215.70" font-family="'Liberation Sans', sans-serif" font-size="12.5" text-anchor="start" font-weight="normal" font-style="normal" fill="#222" >-0.03</text>
<text x="534.20" y="44.50" font-family="'Liberation Sans', sans-serif" font-size="12" text-anchor="middle" font-weight="normal" font-style="italic" fill="#222" textLength="47" lengthAdjust="spacingAndGlyphs" transform="rotate(-90 534.20 44.50)" >Intensity</text>
<text x="548.20" y="44.50" font-family="'Liberation Sans', sans-serif" font-size="12" text-anchor="middle" font-weight="normal" font-style="normal" fill="#222" textLength="28.5" lengthAdjust="spacingAndGlyphs" transform="rotate(-90 548.20 44.50)" >(a.u.)</text>
<text x="313.20" y="111.30" font-family="'Liberation Sans', sans-serif" font-size="11.5" text-anchor="middle" font-weight="normal" font-style="normal" fill="#222" textLength="44.5" lengthAdjust="spacingAndGlyphs" transform="rotate(-90 313.20 111.30)" ><tspan font-style='italic'>ΔI</tspan> (a.u.)</text>
<text x="541.80" y="190.90" font-family="'Liberation Sans', sans-serif" font-size="12" text-anchor="middle" font-weight="normal" font-style="normal" fill="#222" transform="rotate(-90 541.80 190.90)" ><tspan font-style='italic' font-size='13'>g</tspan><tspan dy='3' font-size='9'>lum</tspan></text>
<text x="483.30" y="31.80" font-family="'Liberation Sans', sans-serif" font-size="12.2" text-anchor="end" font-weight="bold" font-style="italic" fill="#111" >PL</text>
<text x="487.60" y="81.80" font-family="'Liberation Sans', sans-serif" font-size="12.2" text-anchor="end" font-weight="bold" font-style="italic" fill="#111" >CPL</text>
<text x="462.30" y="168.80" font-family="'Liberation Sans', sans-serif" font-size="12" text-anchor="start" font-weight="bold" font-style="normal" fill="#111" textLength="21.4" lengthAdjust="spacingAndGlyphs" ><tspan font-style='italic' font-size='13'>g</tspan><tspan font-size='9.5' dy='3'>lum</tspan></text>
<path d="M352.0 67.0 C353.5 66.9 358.2 67.4 361.0 66.5 C363.8 65.6 366.7 64.4 369.0 61.4 C371.3 58.4 372.9 53.0 374.8 48.4 C376.7 43.8 379.1 37.2 380.6 33.9 C382.1 30.5 382.9 29.7 384.0 28.3 C385.1 26.9 386.0 25.9 387.2 25.6 C388.4 25.4 389.2 25.2 391.0 26.8 C392.8 28.4 395.4 31.9 398.0 35.3 C400.6 38.6 404.1 43.9 406.8 46.9 C409.5 49.9 411.8 51.8 414.0 53.5 C416.2 55.2 417.3 55.9 420.0 57.1 C422.7 58.4 426.2 59.7 430.0 61.0 C433.8 62.3 436.5 63.9 442.7 64.8 C448.9 65.7 458.5 66.2 467.2 66.6 C475.9 67.0 490.4 66.9 495.0 67.0" fill="none" stroke="#3a3a3a" stroke-width="1.15" stroke-linejoin="round" />
<path d="M343.0 67.0 C343.9 66.3 346.8 65.3 348.7 62.9 C350.6 60.5 352.6 55.4 354.5 52.7 C356.4 50.0 358.4 48.2 360.3 46.9 C362.2 45.6 363.7 44.7 366.1 44.8 C368.5 44.9 371.9 46.1 374.8 47.7 C377.7 49.3 380.1 52.0 383.5 54.2 C386.9 56.4 391.1 58.9 395.2 60.7 C399.3 62.5 404.1 64.1 408.2 65.1 C412.3 66.1 414.7 66.2 420.0 66.5 C425.3 66.8 436.7 66.8 440.0 66.9" fill="none" stroke="#f79646" stroke-width="1.15" stroke-linejoin="round" />
<path d="M343.0 67.0 C343.9 66.3 346.8 65.3 348.7 62.9 C350.6 60.5 352.6 55.4 354.5 52.7 C356.4 50.0 358.4 48.2 360.3 46.9 C362.2 45.6 363.7 44.7 366.1 44.8 C368.5 44.9 371.9 46.1 374.8 47.7 C377.7 49.3 380.1 52.0 383.5 54.2 C386.9 56.4 391.1 58.9 395.2 60.7 C399.3 62.5 404.1 64.1 408.2 65.1 C412.3 66.1 414.7 66.2 420.0 66.5 C425.3 66.8 436.7 66.8 440.0 66.9" fill="none" stroke="#228b22" stroke-width="1.15" stroke-dasharray="2,2" stroke-linejoin="round" />
<path d="M352.3 64.3 C353.9 63.6 358.8 61.0 361.8 60.0 C364.8 59.0 368.1 59.5 370.5 58.3 C372.9 57.1 374.4 54.8 376.3 53.0 C378.2 51.2 380.3 48.7 382.0 47.5 C383.7 46.3 384.9 45.8 386.4 45.7 C387.9 45.6 389.1 45.9 391.0 47.0 C392.9 48.1 394.9 50.2 398.0 52.3 C401.1 54.4 405.0 57.5 409.7 59.5 C414.4 61.5 420.8 62.8 426.3 64.0 C431.8 65.2 435.4 66.1 442.7 66.6 C450.0 67.1 465.4 66.9 470.0 67.0" fill="none" stroke="#3344ff" stroke-width="1.15" stroke-linejoin="round" />
<path d="M352.3 64.3 C353.9 63.6 358.8 61.1 361.8 60.0 C364.8 58.9 368.1 59.2 370.5 57.8 C372.9 56.3 374.4 53.3 376.3 51.3 C378.2 49.2 380.3 46.8 382.0 45.5 C383.7 44.2 384.9 43.6 386.4 43.5 C387.9 43.4 389.1 43.6 391.0 44.8 C392.9 46.0 394.9 48.3 398.0 50.6 C401.1 52.9 405.0 56.4 409.7 58.5 C414.4 60.6 420.8 61.9 426.3 63.2 C431.8 64.5 435.4 65.9 442.7 66.5 C450.0 67.1 465.4 66.9 470.0 67.0" fill="none" stroke="#ff3333" stroke-width="1.15" stroke-linejoin="round" />
<line x1="342.80" y1="111.70" x2="495.30" y2="111.70" stroke="#777" stroke-width="1" />
<path d="M343.0 111.7 C352.5 111.7 385.5 111.7 400.0 111.7 C414.5 111.7 420.0 111.5 430.0 111.5 C440.0 111.5 455.0 111.7 460.0 111.7" fill="none" stroke="#f79646" stroke-width="1.15" stroke-dasharray="2,2" stroke-linejoin="round" />
<path d="M343.0 111.7 C349.2 111.7 370.5 111.5 380.0 111.5 C389.5 111.5 391.7 111.7 400.0 111.7 C408.3 111.7 420.0 111.5 430.0 111.5 C440.0 111.5 455.0 111.7 460.0 111.7" fill="none" stroke="#228b22" stroke-width="1.15" stroke-dasharray="2,2" stroke-linejoin="round" stroke-dashoffset="2"/>
<path d="M352.0 111.7 C352.7 111.6 354.6 111.8 356.0 111.3 C357.4 110.8 359.0 109.6 360.3 108.5 C361.6 107.4 362.7 105.8 364.0 104.5 C365.3 103.2 366.9 101.2 368.1 100.9 C369.3 100.7 370.2 102.0 371.0 103.0 C371.8 104.0 372.1 105.6 372.7 107.1 C373.3 108.5 373.4 109.0 374.5 111.7 C375.6 114.4 377.5 119.4 379.2 123.0 C380.9 126.6 383.0 131.1 384.8 133.2 C386.6 135.2 388.0 135.2 389.9 135.3 C391.8 135.4 394.6 134.6 396.4 133.9 C398.2 133.2 399.6 131.6 400.8 131.0 C402.0 130.4 402.7 130.8 403.7 130.2 C404.7 129.6 404.7 128.8 406.6 127.3 C408.5 125.8 412.4 123.2 415.3 121.5 C418.2 119.8 421.6 118.2 424.0 117.2 C426.4 116.2 427.7 116.0 430.0 115.4 C432.3 114.8 434.3 114.2 437.8 113.7 C441.3 113.2 445.4 112.5 450.8 112.2 C456.2 111.9 462.6 111.8 470.0 111.7 C477.4 111.6 490.8 111.7 495.0 111.7" fill="none" stroke="#ff3333" stroke-width="1.15" stroke-linejoin="round" />
<path d="M352.0 111.7 C352.7 111.8 354.6 111.6 356.0 112.1 C357.4 112.6 359.0 113.6 360.3 114.8 C361.6 116.0 362.8 117.9 364.0 119.0 C365.2 120.1 366.3 121.4 367.4 121.3 C368.5 121.2 369.6 119.5 370.5 118.5 C371.4 117.5 372.0 116.6 372.7 115.5 C373.4 114.4 373.4 114.8 374.5 111.7 C375.6 108.6 377.7 100.8 379.2 96.9 C380.7 93.0 381.6 90.1 383.4 88.2 C385.2 86.3 387.7 85.5 389.9 85.3 C392.1 85.0 394.6 85.9 396.4 86.7 C398.2 87.5 399.5 89.6 400.8 90.3 C402.1 91.0 402.9 90.4 404.4 91.1 C405.8 91.8 407.2 93.0 409.5 94.7 C411.8 96.4 415.8 99.6 418.2 101.2 C420.6 102.8 422.0 103.2 424.0 104.1 C426.0 104.9 427.7 105.5 430.0 106.3 C432.3 107.1 434.3 108.0 437.8 108.8 C441.3 109.6 445.4 110.5 450.8 111.0 C456.2 111.5 462.6 111.6 470.0 111.7 C477.4 111.8 490.8 111.7 495.0 111.7" fill="none" stroke="#3344ff" stroke-width="1.15" stroke-linejoin="round" />
<line x1="342.80" y1="190.30" x2="495.30" y2="190.30" stroke="#888" stroke-width="1.8" />
<path d="M351.0 189.2 L351.4 189.2 L351.9 189.6 L352.5 189.5 L353.1 189.6 L353.8 190.1 L354.6 190.7 L355.3 190.7 L356.0 190.8 L356.7 190.2 L357.4 190.5 L358.2 190.1 L358.9 189.9 L359.7 189.8 L360.5 189.8 L361.2 190.4 L362.0 190.3 L362.7 190.4 L363.5 190.4 L364.2 189.9 L365.0 190.2 L365.7 190.7 L366.5 190.9 L367.2 191.1 L368.0 191.2 L368.8 190.4 L369.6 190.9 L370.4 190.9 L371.3 190.6 L372.1 190.2 L372.9 190.5 L373.7 190.1 L374.5 190.9 L375.2 190.9 L375.9 190.7 L376.6 190.6 L377.3 191.4 L377.9 191.2 L378.6 191.6 L379.3 191.7 L380.0 191.5 L380.7 191.5 L381.5 191.8 L382.2 191.7 L383.0 191.5 L383.7 191.7 L384.5 192.3 L385.2 191.6 L386.0 191.5 L386.8 192.1 L387.5 191.7 L388.2 191.8 L389.0 191.7 L389.8 191.4 L390.5 191.9 L391.2 190.9 L392.0 190.9 L392.8 190.4 L393.5 190.6 L394.3 189.9 L395.1 189.6 L395.8 189.6 L396.6 188.8 L397.3 188.8 L398.0 188.9 L398.7 187.9 L399.3 187.7 L399.9 187.8 L400.6 188.3 L401.2 188.1 L401.8 187.7 L402.4 187.8 L403.0 187.7 L403.6 188.1 L404.3 187.8 L404.9 188.7 L405.6 189.1 L406.2 189.4 L406.8 189.4 L407.4 189.8 L408.0 189.0 L408.6 189.4 L409.2 190.2 L409.7 190.1 L410.3 189.8 L410.8 190.3 L411.3 190.1 L411.7 190.3 L412.0 189.8" fill="none" stroke="#f79646" stroke-width="1.1" stroke-linejoin="round"/>
<path d="M351.0 188.2 L351.4 189.1 L351.9 188.4 L352.5 189.2 L353.1 188.9 L353.8 189.3 L354.6 190.2 L355.3 189.6 L356.0 190.1 L356.7 190.0 L357.4 190.0 L358.2 190.0 L358.9 189.6 L359.7 190.1 L360.5 189.3 L361.2 189.4 L362.0 189.2 L362.7 189.5 L363.5 189.8 L364.2 190.4 L365.0 190.0 L365.7 189.8 L366.5 190.1 L367.2 190.9 L368.0 190.1 L368.8 190.6 L369.6 190.4 L370.4 190.7 L371.3 190.3 L372.1 190.6 L372.9 190.4 L373.7 190.5 L374.5 190.7 L375.2 190.4 L375.9 189.9 L376.6 189.8 L377.3 190.6 L377.9 190.2 L378.6 189.8 L379.3 190.5 L380.0 190.1 L380.7 190.1 L381.5 190.2 L382.3 189.5 L383.1 189.4 L383.9 189.8 L384.6 188.9 L385.3 189.4 L386.0 188.6 L386.6 189.0 L387.1 188.8 L387.6 188.8 L388.1 188.4 L388.6 187.9 L389.0 187.4 L389.5 187.2 L390.0 187.5 L390.5 187.6 L391.0 187.2 L391.5 188.3 L392.0 188.1 L392.5 188.5 L393.0 188.3 L393.5 188.6 L394.0 188.5 L394.5 189.0 L395.0 189.0 L395.5 189.3 L395.9 189.4 L396.4 189.9 L396.9 190.1 L397.5 189.5 L398.0 189.9 L398.6 189.8 L399.2 190.6 L399.8 191.1 L400.4 190.6 L401.1 191.4 L401.7 191.1 L402.4 190.9 L403.0 191.8 L403.6 191.3 L404.3 191.0 L404.9 191.1 L405.6 190.7 L406.2 190.7 L406.8 190.6 L407.4 190.4 L408.0 190.6 L408.6 190.4 L409.2 190.3 L409.7 190.5 L410.3 190.8 L410.8 191.5 L411.3 191.5 L411.7 192.2 L412.0 192.0" fill="none" stroke="#228b22" stroke-width="1.1" stroke-dasharray="2.5,1.5" stroke-linejoin="round"/>
<path d="M358.1 181.2 L358.4 180.6 L358.8 179.9 L359.2 178.9 L359.7 177.9 L360.3 176.9 L360.8 175.8 L361.4 174.8 L362.0 174.0 L362.6 173.2 L363.2 172.4 L363.9 171.5 L364.6 170.8 L365.3 170.1 L366.0 169.5 L366.6 169.2 L367.2 169.0 L367.7 169.0 L368.2 169.2 L368.7 169.5 L369.1 169.9 L369.6 170.6 L370.0 171.4 L370.5 172.4 L370.9 173.6 L371.3 175.2 L371.8 177.1 L372.2 179.3 L372.6 181.6 L373.1 184.0 L373.5 186.3 L374.0 188.5 L374.5 190.3 L375.0 191.9 L375.6 193.3 L376.1 194.6 L376.7 195.8 L377.3 196.9 L377.8 198.0 L378.4 198.9 L379.0 199.9 L379.5 200.8 L380.0 201.7 L380.4 202.5 L380.9 203.2 L381.4 203.8 L382.0 204.5 L382.7 205.3 L383.6 205.4 L384.7 205.7 L385.9 206.0 L387.3 205.8 L388.7 206.1 L390.2 206.2 L391.7 206.4 L393.1 205.9 L394.4 206.1 L395.6 206.2 L396.7 207.0 L397.8 207.2 L398.8 206.9 L399.9 208.0 L401.0 208.2 L402.2 208.1 L403.5 208.1 L404.9 207.7 L406.4 207.4 L407.9 207.6 L409.5 207.0 L411.1 206.9 L412.8 206.6 L414.5 206.2 L416.2 206.3 L418.0 206.0 L419.9 206.1 L421.8 205.6 L423.8 205.5 L425.7 205.1 L427.5 205.0 L429.2 204.6 L430.7 204.2 L432.0 204.6 L433.2 204.3 L434.3 203.9 L435.3 203.5 L436.1 203.0 L436.9 202.7 L437.5 202.6 L438.0 202.3" fill="none" stroke="#ff3333" stroke-width="1.1" stroke-linejoin="round"/>
<path d="M358.1 195.4 L358.4 196.1 L358.8 197.1 L359.2 198.3 L359.7 199.6 L360.3 201.0 L360.8 202.4 L361.4 203.7 L362.0 205.0 L362.6 206.3 L363.2 207.8 L363.9 209.3 L364.6 210.8 L365.3 212.1 L366.0 213.2 L366.6 214.0 L367.2 214.4 L367.7 214.3 L368.2 213.9 L368.7 213.3 L369.1 212.3 L369.6 211.2 L370.0 209.9 L370.5 208.5 L370.9 207.0 L371.3 205.4 L371.8 203.5 L372.2 201.4 L372.6 199.2 L373.1 197.0 L373.5 194.7 L374.0 192.5 L374.5 190.3 L375.0 188.1 L375.6 185.8 L376.1 183.5 L376.7 181.2 L377.3 179.0 L377.8 176.9 L378.4 175.1 L379.0 173.6 L379.5 172.4 L380.0 171.4 L380.4 170.7 L380.9 170.1 L381.4 169.6 L382.0 169.4 L382.7 169.1 L383.6 168.4 L384.7 168.1 L385.9 168.2 L387.3 168.1 L388.8 168.6 L390.3 168.6 L391.8 168.6 L393.2 168.7 L394.4 168.8 L395.5 168.5 L396.6 168.8 L397.6 168.6 L398.5 169.3 L399.4 168.7 L400.2 169.3 L401.0 168.7 L401.7 169.1 L402.3 168.7 L402.7 168.6 L403.0 168.7 L403.3 167.8 L403.6 167.6 L404.0 168.0 L404.5 167.4 L405.3 166.9 L406.3 167.4 L407.5 167.2 L408.9 166.3 L410.3 166.4 L411.8 166.0 L413.3 166.0 L414.8 166.1 L416.2 165.7 L417.6 166.2 L419.0 165.8 L420.4 166.0 L421.9 166.7 L423.3 166.5 L424.6 166.7 L425.9 167.1 L427.1 167.2 L428.2 167.3 L429.3 167.2 L430.3 167.9 L431.2 168.3 L432.1 168.5 L432.9 168.5 L433.7 168.5 L434.4 168.9 L435.1 169.6 L435.6 170.2 L436.2 170.4 L436.7 171.2 L437.1 172.0 L437.4 172.7 L437.7 173.5 L438.0 173.6" fill="none" stroke="#3344ff" stroke-width="1.1" stroke-linejoin="round"/>
<rect x="136.5" y="265.7" width="313.2" height="50.1" fill="none" stroke="#9a9a9a" stroke-width="1.3"/>
<line x1="139.90" y1="276.20" x2="160.10" y2="276.20" stroke="#000" stroke-width="3" />
<line x1="139.90" y1="291.30" x2="160.10" y2="291.30" stroke="#f79646" stroke-width="3" />
<line x1="139.90" y1="306.80" x2="160.10" y2="306.80" stroke="#007a00" stroke-width="3" stroke-dasharray="2.8,2.9"/>
<line x1="245.00" y1="291.40" x2="265.00" y2="291.40" stroke="#ff0000" stroke-width="3" />
<line x1="245.00" y1="306.20" x2="265.00" y2="306.20" stroke="#0000cc" stroke-width="3" />
<text x="164.00" y="279.60" font-family="'Liberation Sans', sans-serif" font-size="12" text-anchor="start" font-weight="bold" font-style="normal" fill="#111" textLength="21.7" lengthAdjust="spacingAndGlyphs" >P16</text>
<text x="163.60" y="294.20" font-family="'Liberation Sans', sans-serif" font-size="12" text-anchor="start" font-weight="bold" font-style="normal" fill="#111" textLength="47.9" lengthAdjust="spacingAndGlyphs" ><tspan font-weight='normal'>(</tspan><tspan font-style='italic'>R</tspan><tspan font-weight='normal'>)</tspan>-BNP</text>
<text x="163.60" y="308.70" font-family="'Liberation Sans', sans-serif" font-size="12" text-anchor="start" font-weight="bold" font-style="normal" fill="#111" textLength="47.2" lengthAdjust="spacingAndGlyphs" ><tspan font-weight='normal'>(</tspan><tspan font-style='italic'>S</tspan><tspan font-weight='normal'>)</tspan>-BNP</text>
<text x="268.50" y="294.20" font-family="'Liberation Sans', sans-serif" font-size="12" text-anchor="start" font-weight="bold" font-style="normal" fill="#111" textLength="76.8" lengthAdjust="spacingAndGlyphs" >P16<tspan font-weight='normal' fill='#555'>–</tspan><tspan font-weight='normal'>(</tspan><tspan font-style='italic'>R</tspan><tspan font-weight='normal'>)</tspan>-BNP</text>
<text x="268.50" y="308.70" font-family="'Liberation Sans', sans-serif" font-size="12" text-anchor="start" font-weight="bold" font-style="normal" fill="#111" textLength="76.2" lengthAdjust="spacingAndGlyphs" >P16<tspan font-weight='normal' fill='#555'>–</tspan><tspan font-weight='normal'>(</tspan><tspan font-style='italic'>S</tspan><tspan font-weight='normal'>)</tspan>-BNP</text>
<text x="349.00" y="294.20" font-family="'Liberation Sans', sans-serif" font-size="12" text-anchor="start" font-weight="normal" font-style="normal" fill="#222" textLength="95" lengthAdjust="spacingAndGlyphs" >(1.0:2.0 mol/mol)</text>
<text x="349.00" y="308.70" font-family="'Liberation Sans', sans-serif" font-size="12" text-anchor="start" font-weight="normal" font-style="normal" fill="#222" textLength="95" lengthAdjust="spacingAndGlyphs" >(1.0:2.0 mol/mol)</text>
<text x="2.30" y="347.50" font-family="'Liberation Sans', sans-serif" font-size="15" text-anchor="start" font-weight="normal" font-style="normal" fill="#222" >(c)</text>
<rect x="61.50" y="369.10" width="154.30" height="160.10" fill="none" stroke="#383838" stroke-width="1.15"/>
<line x1="61.50" y1="418.60" x2="215.80" y2="418.60" stroke="#383838" stroke-width="1.15" />
<line x1="105.59" y1="369.10" x2="105.59" y2="371.70" stroke="#383838" stroke-width="1" />
<line x1="160.69" y1="369.10" x2="160.69" y2="371.70" stroke="#383838" stroke-width="1" />
<line x1="78.03" y1="369.10" x2="78.03" y2="370.70" stroke="#383838" stroke-width="1" />
<line x1="133.14" y1="369.10" x2="133.14" y2="370.70" stroke="#383838" stroke-width="1" />
<line x1="188.25" y1="369.10" x2="188.25" y2="370.70" stroke="#383838" stroke-width="1" />
<line x1="105.59" y1="416.00" x2="105.59" y2="418.60" stroke="#383838" stroke-width="1" />
<line x1="105.59" y1="418.60" x2="105.59" y2="421.20" stroke="#383838" stroke-width="1" />
<line x1="160.69" y1="416.00" x2="160.69" y2="418.60" stroke="#383838" stroke-width="1" />
<line x1="160.69" y1="418.60" x2="160.69" y2="421.20" stroke="#383838" stroke-width="1" />
<line x1="78.03" y1="417.00" x2="78.03" y2="418.60" stroke="#383838" stroke-width="1" />
<line x1="78.03" y1="418.60" x2="78.03" y2="420.20" stroke="#383838" stroke-width="1" />
<line x1="133.14" y1="417.00" x2="133.14" y2="418.60" stroke="#383838" stroke-width="1" />
<line x1="133.14" y1="418.60" x2="133.14" y2="420.20" stroke="#383838" stroke-width="1" />
<line x1="188.25" y1="417.00" x2="188.25" y2="418.60" stroke="#383838" stroke-width="1" />
<line x1="188.25" y1="418.60" x2="188.25" y2="420.20" stroke="#383838" stroke-width="1" />
<line x1="105.59" y1="526.60" x2="105.59" y2="529.20" stroke="#383838" stroke-width="1" />
<line x1="160.69" y1="526.60" x2="160.69" y2="529.20" stroke="#383838" stroke-width="1" />
<line x1="78.03" y1="527.60" x2="78.03" y2="529.20" stroke="#383838" stroke-width="1" />
<line x1="133.14" y1="527.60" x2="133.14" y2="529.20" stroke="#383838" stroke-width="1" />
<line x1="188.25" y1="527.60" x2="188.25" y2="529.20" stroke="#383838" stroke-width="1" />
<line x1="61.50" y1="404.55" x2="64.00" y2="404.55" stroke="#383838" stroke-width="1" />
<line x1="213.30" y1="404.55" x2="215.80" y2="404.55" stroke="#383838" stroke-width="1" />
<line x1="61.50" y1="390.50" x2="64.00" y2="390.50" stroke="#383838" stroke-width="1" />
<line x1="213.30" y1="390.50" x2="215.80" y2="390.50" stroke="#383838" stroke-width="1" />
<line x1="61.50" y1="376.45" x2="64.00" y2="376.45" stroke="#383838" stroke-width="1" />
<line x1="213.30" y1="376.45" x2="215.80" y2="376.45" stroke="#383838" stroke-width="1" />
<line x1="61.50" y1="524.40" x2="64.00" y2="524.40" stroke="#383838" stroke-width="1" />
<line x1="213.30" y1="524.40" x2="215.80" y2="524.40" stroke="#383838" stroke-width="1" />
<line x1="61.50" y1="511.85" x2="64.00" y2="511.85" stroke="#383838" stroke-width="1" />
<line x1="213.30" y1="511.85" x2="215.80" y2="511.85" stroke="#383838" stroke-width="1" />
<line x1="61.50" y1="499.30" x2="64.00" y2="499.30" stroke="#383838" stroke-width="1" />
<line x1="213.30" y1="499.30" x2="215.80" y2="499.30" stroke="#383838" stroke-width="1" />
<line x1="61.50" y1="486.75" x2="64.00" y2="486.75" stroke="#383838" stroke-width="1" />
<line x1="213.30" y1="486.75" x2="215.80" y2="486.75" stroke="#383838" stroke-width="1" />
<line x1="61.50" y1="461.65" x2="64.00" y2="461.65" stroke="#383838" stroke-width="1" />
<line x1="213.30" y1="461.65" x2="215.80" y2="461.65" stroke="#383838" stroke-width="1" />
<line x1="61.50" y1="449.10" x2="64.00" y2="449.10" stroke="#383838" stroke-width="1" />
<line x1="213.30" y1="449.10" x2="215.80" y2="449.10" stroke="#383838" stroke-width="1" />
<line x1="61.50" y1="436.55" x2="64.00" y2="436.55" stroke="#383838" stroke-width="1" />
<line x1="213.30" y1="436.55" x2="215.80" y2="436.55" stroke="#383838" stroke-width="1" />
<line x1="61.50" y1="424.00" x2="64.00" y2="424.00" stroke="#383838" stroke-width="1" />
<line x1="213.30" y1="424.00" x2="215.80" y2="424.00" stroke="#383838" stroke-width="1" />
<text x="55.50" y="427.80" font-family="'Liberation Sans', sans-serif" font-size="11" text-anchor="end" font-weight="normal" font-style="normal" fill="#222" >2000</text>
<text x="55.50" y="452.90" font-family="'Liberation Sans', sans-serif" font-size="11" text-anchor="end" font-weight="normal" font-style="normal" fill="#222" >1000</text>
<text x="55.50" y="478.00" font-family="'Liberation Sans', sans-serif" font-size="11" text-anchor="end" font-weight="normal" font-style="normal" fill="#222" >0</text>
<text x="55.50" y="503.10" font-family="'Liberation Sans', sans-serif" font-size="11" text-anchor="end" font-weight="normal" font-style="normal" fill="#222" >-1000</text>
<text x="55.50" y="528.20" font-family="'Liberation Sans', sans-serif" font-size="11" text-anchor="end" font-weight="normal" font-style="normal" fill="#222" >-2000</text>
<text x="105.59" y="544.60" font-family="'Liberation Sans', sans-serif" font-size="11" text-anchor="middle" font-weight="normal" font-style="normal" fill="#222" >300</text>
<text x="160.69" y="544.60" font-family="'Liberation Sans', sans-serif" font-size="11" text-anchor="middle" font-weight="normal" font-style="normal" fill="#222" >400</text>
<text x="215.80" y="544.60" font-family="'Liberation Sans', sans-serif" font-size="11" text-anchor="middle" font-weight="normal" font-style="normal" fill="#222" >500</text>
<text x="136.25" y="558.50" font-family="'Liberation Sans', sans-serif" font-size="12" text-anchor="middle" font-weight="normal" font-style="normal" fill="#222" textLength="96" lengthAdjust="spacingAndGlyphs" >Wavelength (nm)</text>
<text x="222.00" y="422.40" font-family="'Liberation Sans', sans-serif" font-size="11" text-anchor="start" font-weight="normal" font-style="normal" fill="#222" >0</text>
<text x="222.00" y="408.35" font-family="'Liberation Sans', sans-serif" font-size="11" text-anchor="start" font-weight="normal" font-style="normal" fill="#222" >1</text>
<text x="222.00" y="394.30" font-family="'Liberation Sans', sans-serif" font-size="11" text-anchor="start" font-weight="normal" font-style="normal" fill="#222" >2</text>
<text x="222.00" y="380.25" font-family="'Liberation Sans', sans-serif" font-size="11" text-anchor="start" font-weight="normal" font-style="normal" fill="#222" >3</text>
<text x="215.70" y="362.00" font-family="'Liberation Sans', sans-serif" font-size="12.5" text-anchor="start" font-weight="normal" font-style="normal" fill="#333" textLength="32.7" lengthAdjust="spacingAndGlyphs" >[×10<tspan dy='-4.5' font-size='8.5'>4</tspan><tspan dy='4.5'>]</tspan></text>
<text x="249.80" y="393.50" font-family="'Liberation Sans', sans-serif" font-size="13" text-anchor="middle" font-weight="normal" font-style="normal" fill="#222" textLength="59.9" lengthAdjust="spacingAndGlyphs" transform="rotate(-90 249.80 393.50)" ><tspan font-style='italic'>ε</tspan> (M<tspan dy='-4.5' font-size='8.5'>−1</tspan><tspan dy='4.5'>cm</tspan><tspan dy='-4.5' font-size='8.5'>−1</tspan><tspan dy='4.5'>)</tspan></text>
<text x="19.30" y="474.10" font-family="'Liberation Sans', sans-serif" font-size="11.5" text-anchor="middle" font-weight="normal" font-style="normal" fill="#222" textLength="75.8" lengthAdjust="spacingAndGlyphs" transform="rotate(-90 19.30 474.10)" ><tspan font-family="'Liberation Serif', serif" font-size='13'>Δ<tspan font-style='italic'>ε</tspan></tspan>  (M<tspan dy='-4' font-size='8'>−1</tspan><tspan dy='4'>cm</tspan><tspan dy='-4' font-size='8'>−1</tspan><tspan dy='4'>)</tspan></text>
<text x="209.20" y="382.20" font-family="'Liberation Sans', sans-serif" font-size="12.2" text-anchor="end" font-weight="bold" font-style="italic" fill="#111" textLength="38.4" lengthAdjust="spacingAndGlyphs" >UV-vis</text>
<text x="67.80" y="433.00" font-family="'Liberation Sans', sans-serif" font-size="12.2" text-anchor="start" font-weight="bold" font-style="italic" fill="#111" >CD</text>
<text x="110.80" y="379.20" font-family="'Liberation Sans', sans-serif" font-size="9" text-anchor="start" font-weight="normal" font-style="normal" fill="#333" >340 nm</text>
<text x="152.00" y="395.60" font-family="'Liberation Sans', sans-serif" font-size="9" text-anchor="start" font-weight="normal" font-style="normal" fill="#333" >384 nm</text>
<text x="110.20" y="447.30" font-family="'Liberation Sans', sans-serif" font-size="9" text-anchor="start" font-weight="normal" font-style="normal" fill="#333" >341 nm</text>
<text x="155.40" y="518.80" font-family="'Liberation Sans', sans-serif" font-size="9" text-anchor="start" font-weight="normal" font-style="normal" fill="#333" >376 nm</text>
<clipPath id="cc"><rect x="61.5" y="369.1" width="154.3" height="49.5"/></clipPath>
<g clip-path="url(#cc)">
<path d="M61.5 394.0 C62.7 395.2 66.3 399.4 68.7 401.3 C71.1 403.2 73.5 404.4 76.0 405.6 C78.5 406.9 81.5 408.6 84.0 408.8 C86.5 409.0 88.5 407.6 91.0 407.0 C93.5 406.4 96.2 405.5 99.2 405.3 C102.2 405.1 106.2 406.3 109.3 405.6 C112.4 404.9 115.1 402.6 118.0 401.0 C120.9 399.4 124.5 396.7 126.8 396.2 C129.1 395.7 129.8 396.4 132.0 398.0 C134.2 399.6 137.4 403.4 139.8 405.8 C142.2 408.2 143.9 410.5 146.3 412.4 C148.8 414.3 151.8 416.0 154.5 417.0 C157.2 418.0 158.4 418.1 162.7 418.4 C166.9 418.7 171.2 418.6 180.0 418.6 C188.8 418.6 209.8 418.6 215.8 418.6" fill="none" stroke="#333333" stroke-width="1.15" stroke-linejoin="round" />
<path d="M69.0 355.0 C69.4 357.3 70.1 363.2 71.3 369.0 C72.5 374.8 74.2 383.9 76.0 389.7 C77.8 395.4 79.6 401.0 81.8 403.5 C84.0 406.0 86.1 405.2 89.0 404.9 C91.9 404.6 95.8 401.7 99.2 401.7 C102.6 401.7 106.2 405.0 109.3 404.9 C112.4 404.8 115.1 402.5 118.0 401.0 C120.9 399.5 124.5 396.6 126.8 395.9 C129.1 395.2 129.8 395.8 132.0 397.0 C134.2 398.2 137.4 401.2 139.8 403.4 C142.2 405.6 143.9 407.9 146.3 410.0 C148.8 412.1 151.8 414.4 154.5 415.7 C157.2 417.0 158.4 417.6 162.7 418.0 C166.9 418.4 171.2 418.3 180.0 418.4 C188.8 418.5 209.8 418.5 215.8 418.5" fill="none" stroke="#ff2a2a" stroke-width="1.15" stroke-linejoin="round" />
<path d="M73.0 355.0 C73.5 357.3 74.5 363.7 76.0 369.0 C77.5 374.3 79.9 382.6 81.8 386.8 C83.7 391.0 84.7 392.9 87.6 394.0 C90.5 395.1 95.3 392.3 99.2 393.3 C103.1 394.3 107.7 399.1 110.8 399.8 C113.9 400.5 115.3 398.3 118.0 397.5 C120.7 396.7 124.5 395.1 126.8 394.8 C129.1 394.6 129.8 395.5 132.0 396.0 C134.2 396.5 137.4 397.0 139.8 397.7 C142.2 398.4 143.9 398.2 146.3 400.1 C148.8 402.0 151.8 406.8 154.5 409.1 C157.2 411.4 157.8 412.8 162.7 414.0 C167.6 415.2 175.1 416.0 183.9 416.5 C192.8 417.0 210.5 416.9 215.8 417.0" fill="none" stroke="#2a3cff" stroke-width="1.15" stroke-linejoin="round" />
<path d="M76.0 355.0 C76.5 357.3 77.5 364.6 78.9 369.0 C80.4 373.4 83.0 379.2 84.7 381.7 C86.4 384.2 86.6 383.6 89.0 383.9 C91.4 384.2 95.3 381.8 99.2 383.6 C103.1 385.4 109.1 393.4 112.2 394.8 C115.3 396.2 115.8 393.0 118.0 392.0 C120.2 391.0 123.0 389.2 125.3 389.0 C127.6 388.8 129.6 389.6 132.0 390.5 C134.4 391.4 137.4 393.1 139.8 394.4 C142.2 395.7 143.9 396.4 146.3 398.5 C148.8 400.6 151.8 404.6 154.5 406.7 C157.2 408.8 157.8 409.4 162.7 410.8 C167.6 412.2 175.1 413.9 183.9 414.8 C192.8 415.8 210.5 416.2 215.8 416.5" fill="none" stroke="#2e8b2e" stroke-width="1.15" stroke-linejoin="round" />
<path d="M79.0 355.0 C79.5 357.3 80.4 365.6 81.8 369.0 C83.2 372.4 84.9 374.2 87.6 375.2 C90.2 376.2 93.6 372.5 97.7 374.9 C101.8 377.3 108.8 387.7 112.2 389.7 C115.6 391.7 115.8 388.0 118.0 387.0 C120.2 386.0 123.3 383.8 125.3 383.6 C127.3 383.4 127.6 384.6 130.0 385.9 C132.4 387.1 137.1 389.6 139.8 391.1 C142.5 392.7 143.9 393.0 146.3 395.2 C148.8 397.4 151.8 401.9 154.5 404.2 C157.2 406.5 157.8 407.6 162.7 409.1 C167.6 410.6 175.1 412.1 183.9 413.2 C192.8 414.3 210.5 415.3 215.8 415.7" fill="none" stroke="#ff8c3a" stroke-width="1.15" stroke-linejoin="round" />
</g>
<path d="M61.5 474.2 L215.8 474.2" fill="none" stroke="#333333" stroke-width="1.15" stroke-linejoin="round" />
<path d="M61.5 474.2 L215.8 474.2" fill="none" stroke="#ff2a2a" stroke-width="1.15" stroke-linejoin="round" />
<path d="M61.5 474.0 C61.9 473.8 63.1 472.8 64.0 473.0 C64.9 473.2 65.9 474.4 67.0 475.0 C68.1 475.6 69.3 476.8 70.5 476.9 C71.7 477.0 72.8 475.9 74.0 475.5 C75.2 475.1 75.6 474.5 77.4 474.2 C79.2 473.9 81.8 473.9 85.0 473.5 C88.2 473.1 92.6 471.7 96.6 471.5 C100.6 471.3 104.9 472.4 108.8 472.5 C112.7 472.6 116.8 472.1 120.0 472.0 C123.2 471.9 125.5 471.6 127.9 472.0 C130.3 472.4 132.5 473.4 134.4 474.7 C136.3 476.0 138.2 478.7 139.6 480.0 C140.9 481.3 141.5 481.9 142.5 482.5 C143.5 483.1 144.6 483.6 145.5 483.6 C146.4 483.7 147.1 483.2 148.0 482.8 C148.9 482.4 149.5 482.3 150.8 481.2 C152.1 480.1 154.4 477.1 156.0 476.0 C157.6 474.9 158.3 474.6 160.6 474.3 C162.9 474.0 160.8 474.2 170.0 474.2 C179.2 474.2 208.2 474.2 215.8 474.2" fill="none" stroke="#2a3cff" stroke-width="1.15" stroke-linejoin="round" />
<path d="M61.5 474.0 C61.9 473.8 63.1 472.8 64.0 473.0 C64.9 473.2 65.9 474.4 67.0 475.0 C68.1 475.6 69.3 476.8 70.5 476.9 C71.7 477.0 72.8 475.9 74.0 475.5 C75.2 475.1 75.6 474.7 77.4 474.2 C79.2 473.7 81.8 473.1 85.0 472.5 C88.2 471.9 92.6 470.5 96.6 470.4 C100.6 470.3 105.2 471.8 108.8 471.7 C112.4 471.6 115.1 470.6 118.0 470.0 C120.9 469.4 124.3 468.3 126.3 468.2 C128.3 468.1 128.9 468.5 130.0 469.5 C131.1 470.5 132.0 472.4 133.1 474.0 C134.2 475.6 135.4 477.2 136.5 479.0 C137.6 480.8 138.5 482.1 139.6 484.5 C140.7 486.9 141.8 491.4 142.9 493.7 C144.0 496.0 145.1 498.0 146.2 498.2 C147.3 498.4 148.3 496.9 149.5 495.0 C150.7 493.1 152.0 490.2 153.4 487.1 C154.8 484.0 156.6 478.7 158.0 476.6 C159.4 474.5 159.9 474.9 161.9 474.5 C163.9 474.1 161.0 474.2 170.0 474.2 C179.0 474.1 208.2 474.2 215.8 474.2" fill="none" stroke="#2e8b2e" stroke-width="1.15" stroke-linejoin="round" />
<path d="M61.5 474.0 C61.9 473.8 63.1 472.8 64.0 473.0 C64.9 473.2 65.9 474.4 67.0 475.0 C68.1 475.6 69.3 476.8 70.5 476.9 C71.7 477.0 72.8 475.9 74.0 475.5 C75.2 475.1 75.6 474.9 77.4 474.2 C79.2 473.4 81.8 472.1 85.0 471.0 C88.2 469.9 92.6 467.6 96.6 467.3 C100.6 467.0 105.2 469.8 108.8 469.4 C112.4 469.0 115.8 465.9 118.0 465.0 C120.2 464.1 120.3 464.7 122.0 464.0 C123.7 463.3 126.4 461.2 127.9 461.0 C129.4 460.8 130.1 461.6 131.0 462.5 C131.9 463.4 132.3 463.8 133.1 466.2 C133.9 468.6 134.6 472.2 135.7 476.6 C136.8 481.0 138.3 487.4 139.6 492.4 C140.9 497.4 142.4 503.1 143.6 506.8 C144.8 510.5 145.7 514.4 146.8 514.6 C147.9 514.8 149.1 511.1 150.1 508.0 C151.1 504.9 151.8 499.8 152.7 496.3 C153.6 492.8 154.4 489.8 155.5 487.0 C156.6 484.2 157.9 481.1 159.3 479.3 C160.7 477.5 161.5 476.8 164.0 476.0 C166.5 475.2 165.8 474.8 174.4 474.5 C183.0 474.2 208.9 474.2 215.8 474.2" fill="none" stroke="#ff8c3a" stroke-width="1.15" stroke-linejoin="round" />
<line x1="146.30" y1="414.00" x2="146.30" y2="389.20" stroke="#111" stroke-width="1.0" />
<path d="M146.30 386.20 L144.10 391.20 L148.50 391.20 Z" fill="#111"/>
<line x1="126.80" y1="471.70" x2="126.80" y2="457.50" stroke="#111" stroke-width="1.0" />
<path d="M126.80 454.50 L124.60 459.50 L129.00 459.50 Z" fill="#111"/>
<line x1="146.30" y1="480.30" x2="146.30" y2="519.10" stroke="#111" stroke-width="1.0" />
<path d="M146.30 522.10 L144.10 517.10 L148.50 517.10 Z" fill="#111"/>
<text x="283.00" y="347.70" font-family="'Liberation Sans', sans-serif" font-size="15" text-anchor="start" font-weight="normal" font-style="normal" fill="#222" >(d)</text>
<rect x="342.50" y="348.70" width="152.80" height="206.60" fill="none" stroke="#383838" stroke-width="1.15"/>
<line x1="342.50" y1="397.50" x2="495.30" y2="397.50" stroke="#383838" stroke-width="1.15" />
<line x1="342.50" y1="486.60" x2="495.30" y2="486.60" stroke="#383838" stroke-width="1.15" />
<line x1="393.43" y1="348.70" x2="393.43" y2="351.30" stroke="#383838" stroke-width="1" />
<line x1="444.37" y1="348.70" x2="444.37" y2="351.30" stroke="#383838" stroke-width="1" />
<line x1="367.97" y1="348.70" x2="367.97" y2="350.30" stroke="#383838" stroke-width="1" />
<line x1="418.90" y1="348.70" x2="418.90" y2="350.30" stroke="#383838" stroke-width="1" />
<line x1="469.83" y1="348.70" x2="469.83" y2="350.30" stroke="#383838" stroke-width="1" />
<line x1="393.43" y1="394.90" x2="393.43" y2="397.50" stroke="#383838" stroke-width="1" />
<line x1="393.43" y1="397.50" x2="393.43" y2="400.10" stroke="#383838" stroke-width="1" />
<line x1="444.37" y1="394.90" x2="444.37" y2="397.50" stroke="#383838" stroke-width="1" />
<line x1="444.37" y1="397.50" x2="444.37" y2="400.10" stroke="#383838" stroke-width="1" />
<line x1="367.97" y1="395.90" x2="367.97" y2="397.50" stroke="#383838" stroke-width="1" />
<line x1="367.97" y1="397.50" x2="367.97" y2="399.10" stroke="#383838" stroke-width="1" />
<line x1="418.90" y1="395.90" x2="418.90" y2="397.50" stroke="#383838" stroke-width="1" />
<line x1="418.90" y1="397.50" x2="418.90" y2="399.10" stroke="#383838" stroke-width="1" />
<line x1="469.83" y1="395.90" x2="469.83" y2="397.50" stroke="#383838" stroke-width="1" />
<line x1="469.83" y1="397.50" x2="469.83" y2="399.10" stroke="#383838" stroke-width="1" />
<line x1="393.43" y1="484.00" x2="393.43" y2="486.60" stroke="#383838" stroke-width="1" />
<line x1="393.43" y1="486.60" x2="393.43" y2="489.20" stroke="#383838" stroke-width="1" />
<line x1="444.37" y1="484.00" x2="444.37" y2="486.60" stroke="#383838" stroke-width="1" />
<line x1="444.37" y1="486.60" x2="444.37" y2="489.20" stroke="#383838" stroke-width="1" />
<line x1="367.97" y1="485.00" x2="367.97" y2="486.60" stroke="#383838" stroke-width="1" />
<line x1="367.97" y1="486.60" x2="367.97" y2="488.20" stroke="#383838" stroke-width="1" />
<line x1="418.90" y1="485.00" x2="418.90" y2="486.60" stroke="#383838" stroke-width="1" />
<line x1="418.90" y1="486.60" x2="418.90" y2="488.20" stroke="#383838" stroke-width="1" />
<line x1="469.83" y1="485.00" x2="469.83" y2="486.60" stroke="#383838" stroke-width="1" />
<line x1="469.83" y1="486.60" x2="469.83" y2="488.20" stroke="#383838" stroke-width="1" />
<line x1="393.43" y1="552.70" x2="393.43" y2="555.30" stroke="#383838" stroke-width="1" />
<line x1="444.37" y1="552.70" x2="444.37" y2="555.30" stroke="#383838" stroke-width="1" />
<line x1="367.97" y1="553.70" x2="367.97" y2="555.30" stroke="#383838" stroke-width="1" />
<line x1="418.90" y1="553.70" x2="418.90" y2="555.30" stroke="#383838" stroke-width="1" />
<line x1="469.83" y1="553.70" x2="469.83" y2="555.30" stroke="#383838" stroke-width="1" />
<line x1="342.50" y1="383.50" x2="345.00" y2="383.50" stroke="#383838" stroke-width="1" />
<line x1="492.80" y1="383.50" x2="495.30" y2="383.50" stroke="#383838" stroke-width="1" />
<line x1="342.50" y1="369.50" x2="345.00" y2="369.50" stroke="#383838" stroke-width="1" />
<line x1="492.80" y1="369.50" x2="495.30" y2="369.50" stroke="#383838" stroke-width="1" />
<line x1="342.50" y1="355.50" x2="345.00" y2="355.50" stroke="#383838" stroke-width="1" />
<line x1="492.80" y1="355.50" x2="495.30" y2="355.50" stroke="#383838" stroke-width="1" />
<line x1="342.50" y1="483.65" x2="345.00" y2="483.65" stroke="#383838" stroke-width="1" />
<line x1="492.80" y1="483.65" x2="495.30" y2="483.65" stroke="#383838" stroke-width="1" />
<line x1="342.50" y1="469.80" x2="345.00" y2="469.80" stroke="#383838" stroke-width="1" />
<line x1="492.80" y1="469.80" x2="495.30" y2="469.80" stroke="#383838" stroke-width="1" />
<line x1="342.50" y1="455.95" x2="345.00" y2="455.95" stroke="#383838" stroke-width="1" />
<line x1="492.80" y1="455.95" x2="495.30" y2="455.95" stroke="#383838" stroke-width="1" />
<line x1="342.50" y1="428.25" x2="345.00" y2="428.25" stroke="#383838" stroke-width="1" />
<line x1="492.80" y1="428.25" x2="495.30" y2="428.25" stroke="#383838" stroke-width="1" />
<line x1="342.50" y1="414.40" x2="345.00" y2="414.40" stroke="#383838" stroke-width="1" />
<line x1="492.80" y1="414.40" x2="495.30" y2="414.40" stroke="#383838" stroke-width="1" />
<line x1="342.50" y1="400.55" x2="345.00" y2="400.55" stroke="#383838" stroke-width="1" />
<line x1="492.80" y1="400.55" x2="495.30" y2="400.55" stroke="#383838" stroke-width="1" />
<line x1="342.50" y1="549.30" x2="345.00" y2="549.30" stroke="#383838" stroke-width="1" />
<line x1="492.80" y1="549.30" x2="495.30" y2="549.30" stroke="#383838" stroke-width="1" />
<line x1="342.50" y1="535.00" x2="345.00" y2="535.00" stroke="#383838" stroke-width="1" />
<line x1="492.80" y1="535.00" x2="495.30" y2="535.00" stroke="#383838" stroke-width="1" />
<line x1="342.50" y1="506.40" x2="345.00" y2="506.40" stroke="#383838" stroke-width="1" />
<line x1="492.80" y1="506.40" x2="495.30" y2="506.40" stroke="#383838" stroke-width="1" />
<line x1="342.50" y1="492.10" x2="345.00" y2="492.10" stroke="#383838" stroke-width="1" />
<line x1="492.80" y1="492.10" x2="495.30" y2="492.10" stroke="#383838" stroke-width="1" />
<text x="335.50" y="418.30" font-family="'Liberation Sans', sans-serif" font-size="12.5" text-anchor="end" font-weight="normal" font-style="normal" fill="#222" >1000</text>
<text x="335.50" y="446.00" font-family="'Liberation Sans', sans-serif" font-size="12.5" text-anchor="end" font-weight="normal" font-style="normal" fill="#222" >0</text>
<text x="335.50" y="473.70" font-family="'Liberation Sans', sans-serif" font-size="12.5" text-anchor="end" font-weight="normal" font-style="normal" fill="#222" >-1000</text>
<text x="342.50" y="570.50" font-family="'Liberation Sans', sans-serif" font-size="12.5" text-anchor="middle" font-weight="normal" font-style="normal" fill="#222" >200</text>
<text x="393.43" y="570.50" font-family="'Liberation Sans', sans-serif" font-size="12.5" text-anchor="middle" font-weight="normal" font-style="normal" fill="#222" >300</text>
<text x="444.37" y="570.50" font-family="'Liberation Sans', sans-serif" font-size="12.5" text-anchor="middle" font-weight="normal" font-style="normal" fill="#222" >400</text>
<text x="495.30" y="570.50" font-family="'Liberation Sans', sans-serif" font-size="12.5" text-anchor="middle" font-weight="normal" font-style="normal" fill="#222" >500</text>
<text x="418.20" y="583.60" font-family="'Liberation Sans', sans-serif" font-size="12" text-anchor="middle" font-weight="normal" font-style="normal" fill="#222" textLength="94.8" lengthAdjust="spacingAndGlyphs" >Wavelength (nm)</text>
<text x="501.30" y="373.90" font-family="'Liberation Sans', sans-serif" font-size="12.5" text-anchor="start" font-weight="normal" font-style="normal" fill="#222" >2</text>
<text x="501.30" y="401.90" font-family="'Liberation Sans', sans-serif" font-size="12.5" text-anchor="start" font-weight="normal" font-style="normal" fill="#222" >0</text>
<text x="500.30" y="495.90" font-family="'Liberation Sans', sans-serif" font-size="12.5" text-anchor="start" font-weight="normal" font-style="normal" fill="#222" >0.1</text>
<text x="500.30" y="524.60" font-family="'Liberation Sans', sans-serif" font-size="12.5" text-anchor="start" font-weight="normal" font-style="normal" fill="#222" >0</text>
<text x="500.30" y="553.50" font-family="'Liberation Sans', sans-serif" font-size="12.5" text-anchor="start" font-weight="normal" font-style="normal" fill="#222" >-0.1</text>
<text x="499.60" y="342.00" font-family="'Liberation Sans', sans-serif" font-size="12.5" text-anchor="start" font-weight="normal" font-style="normal" fill="#333" textLength="32.2" lengthAdjust="spacingAndGlyphs" >[×10<tspan dy='-4.5' font-size='8.5'>4</tspan><tspan dy='4.5'>]</tspan></text>
<text x="535.60" y="372.60" font-family="'Liberation Sans', sans-serif" font-size="13" text-anchor="middle" font-weight="normal" font-style="normal" fill="#222" textLength="58" lengthAdjust="spacingAndGlyphs" transform="rotate(-90 535.60 372.60)" ><tspan font-style='italic'>ε</tspan> (M<tspan dy='-4.5' font-size='8.5'>−1</tspan><tspan dy='4.5'>cm</tspan><tspan dy='-4.5' font-size='8.5'>−1</tspan><tspan dy='4.5'>)</tspan></text>
<text x="533.60" y="520.80" font-family="'Liberation Sans', sans-serif" font-size="12" text-anchor="middle" font-weight="normal" font-style="normal" fill="#222" transform="rotate(-90 533.60 520.80)" ><tspan font-style='italic' font-size='13'>g</tspan><tspan dy='3' font-size='9'>abs</tspan></text>
<text x="297.30" y="440.00" font-family="'Liberation Sans', sans-serif" font-size="11.5" text-anchor="middle" font-weight="normal" font-style="normal" fill="#222" textLength="71.7" lengthAdjust="spacingAndGlyphs" transform="rotate(-90 297.30 440.00)" ><tspan font-family="'Liberation Serif', serif" font-size='12.5'>Δ<tspan font-style='italic'>ε</tspan></tspan>  (M<tspan dy='-4' font-size='8'>−1</tspan><tspan dy='4'>cm</tspan><tspan dy='-4' font-size='8'>−1</tspan><tspan dy='4'>)</tspan></text>
<text x="377.00" y="342.90" font-family="'Liberation Sans', sans-serif" font-size="10.6" text-anchor="start" font-weight="bold" font-style="normal" fill="#ff0000" textLength="87.6" lengthAdjust="spacingAndGlyphs" >Heating process</text>
<text x="484.90" y="361.00" font-family="'Liberation Sans', sans-serif" font-size="12.2" text-anchor="end" font-weight="bold" font-style="italic" fill="#111" textLength="39.4" lengthAdjust="spacingAndGlyphs" >UV-vis</text>
<text x="480.30" y="409.70" font-family="'Liberation Sans', sans-serif" font-size="12.2" text-anchor="end" font-weight="bold" font-style="italic" fill="#111" >CD</text>
<text x="460.40" y="499.30" font-family="'Liberation Sans', sans-serif" font-size="12" text-anchor="start" font-weight="bold" font-style="normal" fill="#111" textLength="21.3" lengthAdjust="spacingAndGlyphs" ><tspan font-style='italic' font-size='13'>g</tspan><tspan font-size='9.5' dy='3'>abs</tspan></text>
<clipPath id="cd"><rect x="342.5" y="348.7" width="152.8" height="48.8"/></clipPath>
<g clip-path="url(#cd)">
<path d="M368.0 333.0 C368.2 333.3 369.0 332.3 369.5 335.0 C370.0 337.7 369.9 345.2 371.0 349.0 C372.1 352.8 373.8 356.8 376.0 358.0 C378.2 359.2 381.5 356.1 384.0 356.3 C386.5 356.5 388.7 356.6 391.0 359.0 C393.3 361.4 396.0 368.2 398.0 370.5 C400.0 372.8 400.6 373.6 403.0 373.0 C405.4 372.4 410.0 367.0 412.5 366.8 C415.0 366.6 416.1 370.8 418.0 372.0 C419.9 373.2 421.7 373.4 424.0 374.0 C426.3 374.6 429.7 374.3 432.0 375.5 C434.3 376.7 435.5 379.0 438.0 381.0 C440.5 383.0 442.2 385.7 447.0 387.5 C451.8 389.3 459.0 390.8 467.0 392.0 C475.0 393.2 490.3 394.5 495.0 395.0" fill="none" stroke="#2b2b2b" stroke-width="1.0" stroke-linejoin="round" />
<path d="M367.7 336.2 C368.0 336.9 368.7 337.6 369.2 340.4 C369.8 343.2 369.9 349.8 371.0 353.2 C372.1 356.6 373.8 359.7 376.0 360.5 C378.2 361.3 381.5 358.0 384.0 358.0 C386.5 357.9 388.7 358.0 391.0 360.3 C393.3 362.6 396.0 369.4 398.0 371.6 C400.0 373.8 400.6 374.3 403.0 373.5 C405.4 372.7 410.0 366.9 412.5 366.8 C415.0 366.7 416.1 371.3 418.0 372.8 C419.9 374.3 421.7 374.9 424.0 375.9 C426.3 376.9 429.7 377.5 432.0 378.8 C434.3 380.1 435.5 382.1 438.0 383.9 C440.5 385.6 442.2 387.7 447.0 389.2 C451.8 390.7 459.0 391.8 467.0 392.8 C475.0 393.9 490.3 395.0 495.0 395.4" fill="none" stroke="#ff2a2a" stroke-width="1.0" stroke-linejoin="round" />
<path d="M367.4 339.4 C367.7 340.5 368.4 342.8 369.0 345.8 C369.6 348.8 369.8 354.5 371.0 357.4 C372.2 360.3 373.8 362.6 376.0 363.0 C378.2 363.4 381.5 359.9 384.0 359.7 C386.5 359.4 388.7 359.4 391.0 361.6 C393.3 363.8 396.0 370.6 398.0 372.7 C400.0 374.8 400.6 375.0 403.0 374.0 C405.4 373.0 410.0 366.9 412.5 366.8 C415.0 366.7 416.1 371.8 418.0 373.6 C419.9 375.4 421.7 376.4 424.0 377.8 C426.3 379.2 429.7 380.6 432.0 382.1 C434.3 383.6 435.5 385.3 438.0 386.8 C440.5 388.2 442.2 389.7 447.0 390.9 C451.8 392.1 459.0 392.9 467.0 393.7 C475.0 394.5 490.3 395.4 495.0 395.8" fill="none" stroke="#2a3cff" stroke-width="1.0" stroke-linejoin="round" />
<path d="M367.1 342.6 C367.4 344.0 368.1 348.0 368.7 351.2 C369.4 354.4 369.8 359.2 371.0 361.6 C372.2 364.0 373.8 365.5 376.0 365.5 C378.2 365.5 381.5 361.8 384.0 361.3 C386.5 360.9 388.7 360.8 391.0 362.9 C393.3 365.0 396.0 371.9 398.0 373.8 C400.0 375.7 400.6 375.7 403.0 374.5 C405.4 373.3 410.0 366.8 412.5 366.8 C415.0 366.8 416.1 372.2 418.0 374.4 C419.9 376.5 421.7 377.9 424.0 379.7 C426.3 381.5 429.7 383.7 432.0 385.4 C434.3 387.1 435.5 388.4 438.0 389.6 C440.5 390.8 442.2 391.8 447.0 392.6 C451.8 393.4 459.0 393.9 467.0 394.5 C475.0 395.1 490.3 395.9 495.0 396.2" fill="none" stroke="#2e8b2e" stroke-width="1.0" stroke-linejoin="round" />
<path d="M366.8 345.8 C367.1 347.6 367.8 353.3 368.5 356.6 C369.2 359.9 369.7 363.9 371.0 365.8 C372.3 367.7 373.8 368.5 376.0 368.0 C378.2 367.5 381.5 363.7 384.0 363.0 C386.5 362.4 388.7 362.2 391.0 364.2 C393.3 366.2 396.0 373.1 398.0 374.9 C400.0 376.7 400.6 376.4 403.0 375.0 C405.4 373.6 410.0 366.8 412.5 366.8 C415.0 366.8 416.1 372.7 418.0 375.2 C419.9 377.7 421.7 379.4 424.0 381.6 C426.3 383.9 429.7 386.9 432.0 388.7 C434.3 390.5 435.5 391.6 438.0 392.5 C440.5 393.5 442.2 393.8 447.0 394.3 C451.8 394.8 459.0 395.0 467.0 395.4 C475.0 395.7 490.3 396.4 495.0 396.6" fill="none" stroke="#ff8c3a" stroke-width="1.0" stroke-linejoin="round" />
<path d="M366.5 349.0 C366.8 351.2 367.4 358.5 368.2 362.0 C368.9 365.5 369.7 368.6 371.0 370.0 C372.3 371.4 373.8 371.4 376.0 370.5 C378.2 369.6 381.5 365.5 384.0 364.7 C386.5 363.9 388.7 363.6 391.0 365.5 C393.3 367.4 396.0 374.3 398.0 376.0 C400.0 377.7 400.6 377.0 403.0 375.5 C405.4 374.0 410.0 366.7 412.5 366.8 C415.0 366.9 416.1 373.2 418.0 376.0 C419.9 378.8 421.7 380.8 424.0 383.5 C426.3 386.2 429.7 390.0 432.0 392.0 C434.3 394.0 435.5 394.7 438.0 395.4 C440.5 396.1 442.2 395.9 447.0 396.0 C451.8 396.1 459.0 396.0 467.0 396.2 C475.0 396.4 490.3 396.9 495.0 397.0" fill="none" stroke="#9955ff" stroke-width="1.0" stroke-linejoin="round" />
</g>
<path d="M342.5 434.2 C343.5 435.4 346.8 440.6 348.7 441.4 C350.6 442.2 351.6 437.9 353.8 438.8 C356.0 439.7 359.3 445.9 361.8 446.5 C364.3 447.1 364.9 444.0 369.0 442.2 C373.1 440.4 381.8 436.4 386.4 435.6 C391.0 434.8 393.0 438.0 396.6 437.4 C400.2 436.8 404.9 433.7 408.2 432.0 C411.5 430.3 414.3 426.7 416.3 427.4 C418.3 428.1 419.2 433.4 420.3 436.3 C421.4 439.2 421.9 440.8 423.1 445.0 C424.3 449.2 426.0 456.1 427.4 461.4 C428.8 466.7 430.2 473.5 431.2 476.6 C432.2 479.7 432.6 480.5 433.4 480.1 C434.2 479.8 435.1 477.6 436.1 474.5 C437.1 471.4 438.1 465.2 439.4 461.4 C440.7 457.6 442.0 454.2 443.8 451.6 C445.6 449.1 447.8 447.4 450.3 446.1 C452.8 444.8 455.7 444.3 459.0 443.7 C462.3 443.1 464.0 442.9 470.0 442.6 C476.0 442.3 490.8 442.2 495.0 442.1" fill="none" stroke="#2b2b2b" stroke-width="1.0" stroke-linejoin="round" />
<path d="M342.5 435.1 C343.5 436.2 346.8 440.8 348.7 441.4 C350.6 442.0 351.6 437.9 353.8 438.8 C356.0 439.7 359.3 445.9 361.8 446.5 C364.3 447.1 364.9 443.8 369.0 442.2 C373.1 440.6 381.8 437.5 386.4 436.9 C391.0 436.3 393.0 438.8 396.6 438.3 C400.2 437.9 404.9 435.4 408.2 434.0 C411.5 432.6 414.3 429.3 416.3 430.0 C418.3 430.7 419.2 435.9 420.3 438.2 C421.4 440.5 421.9 440.3 423.1 444.0 C424.3 447.7 425.9 455.0 427.4 460.3 C428.8 465.6 430.8 472.9 431.8 475.6 C432.8 478.3 432.8 477.0 433.4 476.6 C433.9 476.2 434.4 475.6 435.1 473.4 C435.8 471.2 436.7 467.1 437.8 463.6 C438.9 460.2 439.9 455.6 441.6 452.7 C443.3 449.8 445.2 447.7 448.1 446.1 C451.0 444.5 455.4 443.9 459.0 443.3 C462.6 442.7 464.0 442.6 470.0 442.4 C476.0 442.2 490.8 442.2 495.0 442.1" fill="none" stroke="#ff2a2a" stroke-width="1.0" stroke-linejoin="round" />
<path d="M342.5 436.1 C343.5 437.0 346.8 440.9 348.7 441.4 C350.6 441.9 351.6 437.9 353.8 438.8 C356.0 439.7 359.3 445.9 361.8 446.5 C364.3 447.1 364.9 443.6 369.0 442.2 C373.1 440.8 381.8 438.7 386.4 438.2 C391.0 437.7 393.0 439.6 396.6 439.3 C400.2 438.9 404.9 437.0 408.2 436.0 C411.5 435.1 414.1 432.6 416.3 433.6 C418.5 434.6 419.5 438.0 421.4 442.3 C423.2 446.6 425.9 454.8 427.4 459.2 C428.9 463.6 429.7 466.5 430.5 468.5 C431.3 470.5 431.6 471.3 432.2 471.2 C432.8 471.1 433.2 469.9 434.0 467.9 C434.8 465.9 435.6 462.0 436.7 459.2 C437.8 456.4 438.9 453.4 440.5 451.0 C442.1 448.6 443.6 446.3 446.0 445.0 C448.4 443.7 451.0 443.5 455.0 443.0 C459.0 442.5 463.3 442.3 470.0 442.2 C476.7 442.1 490.8 442.1 495.0 442.1" fill="none" stroke="#2a3cff" stroke-width="1.0" stroke-linejoin="round" />
<path d="M342.5 437.4 C343.5 438.0 346.8 441.2 348.7 441.4 C350.6 441.6 351.6 437.9 353.8 438.8 C356.0 439.7 359.3 445.9 361.8 446.5 C364.3 447.1 364.9 443.3 369.0 442.2 C373.1 441.1 381.8 440.2 386.4 440.0 C391.0 439.7 393.0 440.7 396.6 440.5 C400.2 440.4 404.9 439.3 408.2 438.8 C411.5 438.3 414.2 436.5 416.3 437.5 C418.4 438.5 419.2 441.8 420.9 445.0 C422.6 448.2 424.9 454.2 426.3 457.0 C427.7 459.8 428.3 460.8 429.0 461.8 C429.7 462.8 430.0 463.2 430.6 463.0 C431.2 462.8 432.0 462.0 432.9 460.3 C433.8 458.6 434.8 455.2 436.1 452.7 C437.4 450.1 439.0 446.7 440.5 445.0 C442.0 443.3 441.6 442.9 444.9 442.3 C448.1 441.7 451.6 441.7 460.0 441.6 C468.4 441.5 489.2 441.8 495.0 441.8" fill="none" stroke="#2e8b2e" stroke-width="1.0" stroke-linejoin="round" />
<path d="M342.5 438.6 C343.5 439.1 346.8 441.4 348.7 441.4 C350.6 441.4 351.6 437.9 353.8 438.8 C356.0 439.7 359.3 445.9 361.8 446.5 C364.3 447.1 364.9 443.0 369.0 442.2 C373.1 441.4 381.8 441.7 386.4 441.6 C391.0 441.6 393.0 441.8 396.6 441.8 C400.2 441.7 404.9 441.5 408.2 441.4 C411.5 441.3 414.2 440.9 416.3 441.2 C418.4 441.5 419.4 442.3 420.9 443.4 C422.4 444.5 423.9 446.7 425.3 447.8 C426.8 448.9 428.2 449.9 429.6 450.0 C431.0 450.1 431.9 449.3 433.4 448.5 C434.8 447.7 436.8 445.9 438.3 445.0 C439.9 444.1 440.8 443.6 442.7 443.2 C444.6 442.8 441.3 442.8 450.0 442.6 C458.7 442.4 487.5 442.3 495.0 442.2" fill="none" stroke="#ff8c3a" stroke-width="1.0" stroke-linejoin="round" />
<path d="M342.5 438.9 C343.5 439.4 346.8 441.4 348.7 441.4 C350.6 441.4 351.6 437.9 353.8 438.8 C356.0 439.7 359.3 445.9 361.8 446.5 C364.3 447.1 364.9 442.9 369.0 442.2 C373.1 441.5 381.8 442.1 386.4 442.1 C391.0 442.1 393.0 442.1 396.6 442.1 C400.2 442.1 404.9 442.1 408.2 442.1 C411.5 442.1 414.3 442.1 416.3 442.1 C418.3 442.1 406.9 442.1 420.0 442.1 C433.1 442.1 482.5 442.1 495.0 442.1" fill="none" stroke="#9955ff" stroke-width="1.0" stroke-linejoin="round" />
<path d="M342.5 520.8 C346.0 520.9 357.4 521.7 363.6 521.6 C369.9 521.5 374.8 520.9 380.0 520.3 C385.2 519.7 390.8 518.9 395.0 518.2 C399.2 517.5 401.3 516.7 405.0 515.9 C408.7 515.1 414.4 513.2 417.0 513.2 C419.6 513.2 419.2 514.4 420.3 515.9 C421.4 517.4 422.2 519.3 423.5 522.4 C424.8 525.5 426.5 530.8 427.9 534.4 C429.3 538.0 430.7 542.0 431.7 544.2 C432.7 546.4 433.1 547.5 433.9 547.7 C434.7 547.9 435.6 547.0 436.6 545.3 C437.6 543.6 438.6 540.2 439.9 537.7 C441.2 535.2 442.4 532.2 444.2 530.1 C446.0 528.0 447.3 526.5 450.8 525.2 C454.3 523.9 457.6 523.3 465.0 522.4 C472.4 521.5 490.0 520.3 495.0 519.9" fill="none" stroke="#2b2b2b" stroke-width="1.0" stroke-linejoin="round" />
<path d="M342.5 520.8 C346.0 520.9 357.4 521.7 363.6 521.6 C369.9 521.5 374.8 520.9 380.0 520.4 C385.2 519.9 390.8 519.2 395.0 518.6 C399.2 518.0 401.3 517.0 405.0 516.5 C408.7 516.0 414.4 515.0 417.0 515.3 C419.6 515.5 419.2 516.6 420.3 518.0 C421.4 519.4 422.2 520.8 423.5 523.5 C424.8 526.2 426.5 530.9 427.9 534.4 C429.3 537.9 430.7 542.0 431.7 544.2 C432.7 546.4 433.1 547.5 433.9 547.7 C434.7 547.9 435.6 547.0 436.6 545.5 C437.6 544.0 438.6 541.2 439.9 538.8 C441.2 536.4 442.4 533.3 444.2 531.1 C446.0 528.9 447.3 527.1 450.8 525.7 C454.3 524.4 457.6 523.9 465.0 523.0 C472.4 522.1 490.0 520.7 495.0 520.2" fill="none" stroke="#ff2a2a" stroke-width="1.0" stroke-linejoin="round" />
<path d="M342.5 520.8 C346.0 520.9 357.4 521.6 363.6 521.6 C369.9 521.6 374.8 520.9 380.0 520.5 C385.2 520.1 390.8 519.5 395.0 519.0 C399.2 518.5 401.5 517.9 405.0 517.6 C408.5 517.4 413.6 517.2 416.0 517.5 C418.4 517.8 418.3 518.4 419.5 519.2 C420.7 520.0 421.6 519.9 423.0 522.4 C424.4 524.9 426.4 530.8 427.9 534.4 C429.3 538.0 430.7 542.0 431.7 544.2 C432.7 546.4 433.1 547.6 433.9 547.7 C434.7 547.8 435.6 546.9 436.5 545.0 C437.4 543.1 438.3 539.3 439.5 536.6 C440.7 533.9 441.8 531.0 443.5 529.0 C445.2 527.0 446.4 525.7 450.0 524.6 C453.6 523.5 457.5 523.2 465.0 522.4 C472.5 521.6 490.0 520.4 495.0 520.0" fill="none" stroke="#2a3cff" stroke-width="1.0" stroke-linejoin="round" />
<path d="M342.5 520.8 C346.0 520.9 357.4 521.5 363.6 521.5 C369.9 521.5 374.8 520.9 380.0 520.6 C385.2 520.3 390.8 519.8 395.0 519.5 C399.2 519.2 401.5 518.6 405.0 518.6 C408.5 518.6 413.3 519.1 416.0 519.7 C418.7 520.3 419.4 520.9 421.0 522.4 C422.6 523.9 424.1 526.5 425.5 529.0 C426.9 531.5 428.3 535.4 429.5 537.7 C430.7 540.0 431.8 542.2 432.8 542.6 C433.8 543.0 434.6 541.5 435.5 539.9 C436.4 538.3 437.3 535.8 438.3 533.3 C439.3 530.8 440.4 526.6 441.5 524.6 C442.6 522.6 443.2 522.2 445.0 521.3 C446.8 520.4 448.7 519.8 452.0 519.2 C455.3 518.6 457.8 518.7 465.0 517.9 C472.2 517.1 490.0 515.1 495.0 514.5" fill="none" stroke="#2e8b2e" stroke-width="1.0" stroke-linejoin="round" />
<path d="M342.5 520.8 C346.0 520.9 357.4 521.3 363.6 521.3 C369.9 521.3 373.1 521.0 380.0 520.9 C386.9 520.8 398.7 520.7 405.0 520.8 C411.3 520.9 414.9 520.4 418.0 521.3 C421.1 522.2 421.8 524.7 423.5 526.2 C425.2 527.8 426.5 529.6 428.0 530.6 C429.5 531.6 431.2 532.2 432.5 532.2 C433.8 532.2 434.8 531.6 436.0 530.6 C437.2 529.6 438.7 527.5 440.0 526.2 C441.3 524.9 442.3 523.8 444.0 523.0 C445.7 522.2 446.5 521.6 450.0 521.3 C453.5 521.0 457.5 521.1 465.0 521.0 C472.5 520.9 490.0 520.5 495.0 520.4" fill="none" stroke="#ff8c3a" stroke-width="1.0" stroke-linejoin="round" />
<path d="M342.5 521.1 L495.0 521.1" fill="none" stroke="#9955ff" stroke-width="1.0" stroke-linejoin="round" />
<line x1="432.50" y1="373.30" x2="432.50" y2="393.70" stroke="#111" stroke-width="1.0" />
<path d="M432.50 396.70 L430.30 391.70 L434.70 391.70 Z" fill="#111"/>
<line x1="416.20" y1="428.00" x2="416.20" y2="438.80" stroke="#111" stroke-width="1.0" />
<path d="M416.20 441.80 L414.00 436.80 L418.40 436.80 Z" fill="#111"/>
<line x1="433.40" y1="471.80" x2="433.40" y2="449.30" stroke="#111" stroke-width="1.0" />
<path d="M433.40 446.30 L431.20 451.30 L435.60 451.30 Z" fill="#111"/>
<line x1="433.60" y1="547.20" x2="433.60" y2="526.20" stroke="#111" stroke-width="1.0" />
<path d="M433.60 523.20 L431.40 528.20 L435.80 528.20 Z" fill="#111"/>
<rect x="98.3" y="590.3" width="94.1" height="93.5" fill="none" stroke="#9a9a9a" stroke-width="1.2"/>
<text x="101.80" y="604.30" font-family="'Liberation Sans', sans-serif" font-size="11.5" text-anchor="start" font-weight="bold" font-style="normal" fill="#222" textLength="84.2" lengthAdjust="spacingAndGlyphs" >[P16] : [(<tspan font-style='italic'>R</tspan>)-BNP]</text>
<line x1="117.70" y1="615.90" x2="138.00" y2="615.90" stroke="#000000" stroke-width="3" />
<text x="145.30" y="620.30" font-family="'Liberation Sans', sans-serif" font-size="12.2" text-anchor="start" font-weight="normal" font-style="normal" fill="#222" textLength="41.5" lengthAdjust="spacingAndGlyphs" >1.0 : 0.0</text>
<line x1="117.70" y1="631.15" x2="138.00" y2="631.15" stroke="#ff0000" stroke-width="3" />
<text x="145.30" y="635.55" font-family="'Liberation Sans', sans-serif" font-size="12.2" text-anchor="start" font-weight="normal" font-style="normal" fill="#222" textLength="41.5" lengthAdjust="spacingAndGlyphs" >1.0 : 0.5</text>
<line x1="117.70" y1="646.40" x2="138.00" y2="646.40" stroke="#0000cc" stroke-width="3" />
<text x="145.30" y="650.80" font-family="'Liberation Sans', sans-serif" font-size="12.2" text-anchor="start" font-weight="normal" font-style="normal" fill="#222" textLength="41.5" lengthAdjust="spacingAndGlyphs" >1.0 : 0.9</text>
<line x1="117.70" y1="661.65" x2="138.00" y2="661.65" stroke="#007000" stroke-width="3" />
<text x="145.30" y="666.05" font-family="'Liberation Sans', sans-serif" font-size="12.2" text-anchor="start" font-weight="normal" font-style="normal" fill="#222" textLength="41.5" lengthAdjust="spacingAndGlyphs" >1.0 : 1.5</text>
<line x1="117.70" y1="676.90" x2="138.00" y2="676.90" stroke="#f79646" stroke-width="3" />
<text x="145.30" y="681.30" font-family="'Liberation Sans', sans-serif" font-size="12.2" text-anchor="start" font-weight="normal" font-style="normal" fill="#222" textLength="41.5" lengthAdjust="spacingAndGlyphs" >1.0 : 2.0</text>
<rect x="349.6" y="594.2" width="163.6" height="93.2" fill="none" stroke="#9a9a9a" stroke-width="1.2"/>
<text x="358.00" y="609.20" font-family="'Liberation Sans', sans-serif" font-size="12.5" text-anchor="start" font-weight="normal" font-style="normal" fill="#222" textLength="68.5" lengthAdjust="spacingAndGlyphs" >Temperature:</text>
<line x1="435.20" y1="604.80" x2="455.30" y2="604.80" stroke="#000000" stroke-width="3" />
<text x="461.40" y="609.60" font-family="'Liberation Sans', sans-serif" font-size="13.2" text-anchor="start" font-weight="normal" font-style="normal" fill="#222" textLength="26.7" lengthAdjust="spacingAndGlyphs" >25 °C</text>
<line x1="435.20" y1="619.96" x2="455.30" y2="619.96" stroke="#ff0000" stroke-width="3" />
<text x="461.40" y="624.76" font-family="'Liberation Sans', sans-serif" font-size="13.2" text-anchor="start" font-weight="normal" font-style="normal" fill="#222" textLength="26.7" lengthAdjust="spacingAndGlyphs" >35 °C</text>
<line x1="435.20" y1="635.12" x2="455.30" y2="635.12" stroke="#0000cc" stroke-width="3" />
<text x="461.40" y="639.92" font-family="'Liberation Sans', sans-serif" font-size="13.2" text-anchor="start" font-weight="normal" font-style="normal" fill="#222" textLength="26.7" lengthAdjust="spacingAndGlyphs" >45 °C</text>
<line x1="435.20" y1="650.28" x2="455.30" y2="650.28" stroke="#007000" stroke-width="3" />
<text x="461.40" y="655.08" font-family="'Liberation Sans', sans-serif" font-size="13.2" text-anchor="start" font-weight="normal" font-style="normal" fill="#222" textLength="26.7" lengthAdjust="spacingAndGlyphs" >55 °C</text>
<line x1="435.20" y1="665.44" x2="455.30" y2="665.44" stroke="#f79646" stroke-width="3" />
<text x="461.40" y="670.24" font-family="'Liberation Sans', sans-serif" font-size="13.2" text-anchor="start" font-weight="normal" font-style="normal" fill="#222" textLength="26.7" lengthAdjust="spacingAndGlyphs" >65 °C</text>
<line x1="435.20" y1="680.60" x2="455.30" y2="680.60" stroke="#9966ff" stroke-width="3" />
<text x="461.40" y="685.40" font-family="'Liberation Sans', sans-serif" font-size="13.2" text-anchor="start" font-weight="normal" font-style="normal" fill="#222" textLength="26.7" lengthAdjust="spacingAndGlyphs" >75 °C</text>
<line x1="500.40" y1="602.00" x2="500.40" y2="679.50" stroke="#000" stroke-width="1.6" />
<path d="M500.40 684.00 L497.10 676.50 L503.70 676.50 Z" fill="#000"/>
</svg></body></html>
